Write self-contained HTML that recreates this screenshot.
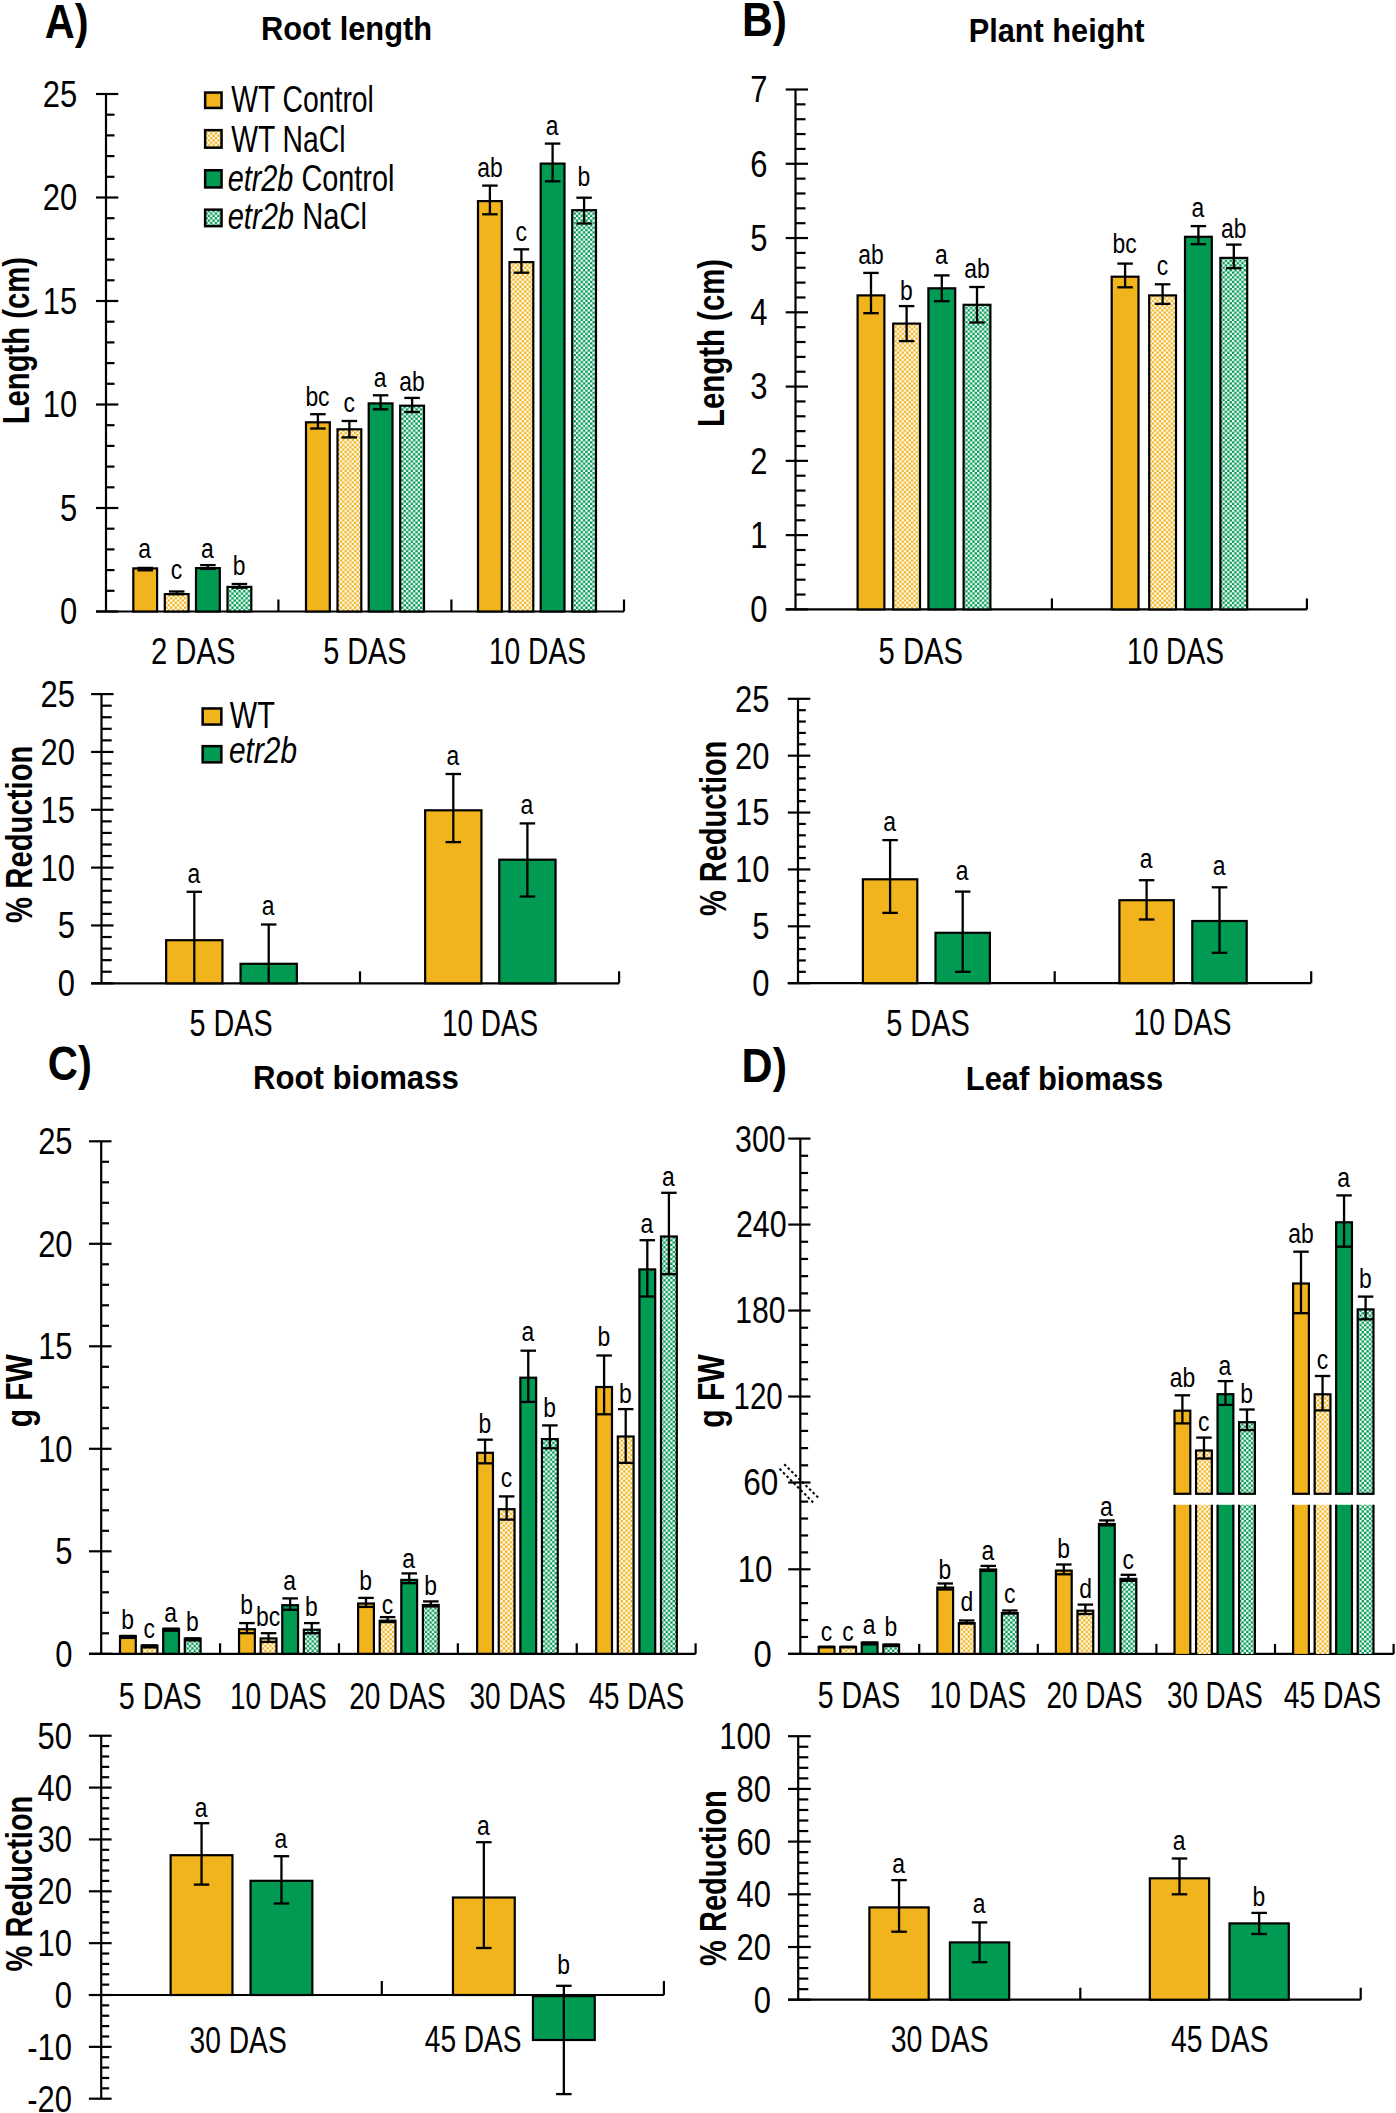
<!DOCTYPE html>
<html><head><meta charset="utf-8"><title>Figure</title>
<style>html,body{margin:0;padding:0;background:#fff;}svg{display:block;font-family:"Liberation Sans",sans-serif;}</style></head>
<body>
<svg width="1396" height="2113" viewBox="0 0 1396 2113"  fill="#000">
<defs>
<pattern id="po" width="4.72" height="4.72" patternUnits="userSpaceOnUse"><rect width="4.72" height="4.72" fill="#f1b41c"/><rect width="2.36" height="2.36" fill="#fff"/><rect x="2.36" y="2.36" width="2.36" height="2.36" fill="#fff"/></pattern>
<pattern id="pg" width="4.72" height="4.72" patternUnits="userSpaceOnUse"><rect width="4.72" height="4.72" fill="#009a52"/><rect width="2.36" height="2.36" fill="#fff"/><rect x="2.36" y="2.36" width="2.36" height="2.36" fill="#fff"/></pattern>
</defs>
<rect width="1396" height="2113" fill="#fff"/>
<text transform="translate(44.76,38.20) scale(0.8584,1)" font-size="48.5" font-weight="bold">A)</text>
<text transform="translate(260.92,40.10) scale(0.9070,1)" font-size="34" font-weight="bold">Root length</text>
<text transform="translate(29.40,424.27) rotate(-90) scale(0.7898,1)" font-size="37" font-weight="bold">Length (cm)</text>
<line x1="106.00" y1="94.00" x2="106.00" y2="611.50" stroke="#000" stroke-width="2.2"/>
<line x1="96.00" y1="611.50" x2="118.30" y2="611.50" stroke="#000" stroke-width="2.2"/>
<line x1="96.00" y1="508.00" x2="118.30" y2="508.00" stroke="#000" stroke-width="2.2"/>
<line x1="96.00" y1="404.50" x2="118.30" y2="404.50" stroke="#000" stroke-width="2.2"/>
<line x1="96.00" y1="301.00" x2="118.30" y2="301.00" stroke="#000" stroke-width="2.2"/>
<line x1="96.00" y1="197.50" x2="118.30" y2="197.50" stroke="#000" stroke-width="2.2"/>
<line x1="96.00" y1="94.00" x2="118.30" y2="94.00" stroke="#000" stroke-width="2.2"/>
<line x1="106.00" y1="590.80" x2="114.50" y2="590.80" stroke="#000" stroke-width="2.2"/>
<line x1="106.00" y1="570.10" x2="114.50" y2="570.10" stroke="#000" stroke-width="2.2"/>
<line x1="106.00" y1="549.40" x2="114.50" y2="549.40" stroke="#000" stroke-width="2.2"/>
<line x1="106.00" y1="528.70" x2="114.50" y2="528.70" stroke="#000" stroke-width="2.2"/>
<line x1="106.00" y1="487.30" x2="114.50" y2="487.30" stroke="#000" stroke-width="2.2"/>
<line x1="106.00" y1="466.60" x2="114.50" y2="466.60" stroke="#000" stroke-width="2.2"/>
<line x1="106.00" y1="445.90" x2="114.50" y2="445.90" stroke="#000" stroke-width="2.2"/>
<line x1="106.00" y1="425.20" x2="114.50" y2="425.20" stroke="#000" stroke-width="2.2"/>
<line x1="106.00" y1="383.80" x2="114.50" y2="383.80" stroke="#000" stroke-width="2.2"/>
<line x1="106.00" y1="363.10" x2="114.50" y2="363.10" stroke="#000" stroke-width="2.2"/>
<line x1="106.00" y1="342.40" x2="114.50" y2="342.40" stroke="#000" stroke-width="2.2"/>
<line x1="106.00" y1="321.70" x2="114.50" y2="321.70" stroke="#000" stroke-width="2.2"/>
<line x1="106.00" y1="280.30" x2="114.50" y2="280.30" stroke="#000" stroke-width="2.2"/>
<line x1="106.00" y1="259.60" x2="114.50" y2="259.60" stroke="#000" stroke-width="2.2"/>
<line x1="106.00" y1="238.90" x2="114.50" y2="238.90" stroke="#000" stroke-width="2.2"/>
<line x1="106.00" y1="218.20" x2="114.50" y2="218.20" stroke="#000" stroke-width="2.2"/>
<line x1="106.00" y1="176.80" x2="114.50" y2="176.80" stroke="#000" stroke-width="2.2"/>
<line x1="106.00" y1="156.10" x2="114.50" y2="156.10" stroke="#000" stroke-width="2.2"/>
<line x1="106.00" y1="135.40" x2="114.50" y2="135.40" stroke="#000" stroke-width="2.2"/>
<line x1="106.00" y1="114.70" x2="114.50" y2="114.70" stroke="#000" stroke-width="2.2"/>
<line x1="96.00" y1="611.50" x2="624.00" y2="611.50" stroke="#000" stroke-width="2.2"/>
<line x1="278.40" y1="611.50" x2="278.40" y2="599.50" stroke="#000" stroke-width="2.2"/>
<line x1="451.40" y1="611.50" x2="451.40" y2="599.50" stroke="#000" stroke-width="2.2"/>
<line x1="624.00" y1="611.50" x2="624.00" y2="599.50" stroke="#000" stroke-width="2.2"/>
<text transform="translate(59.97,624.40) scale(0.8370,1)" font-size="37">0</text>
<text transform="translate(59.97,520.90) scale(0.8370,1)" font-size="37">5</text>
<text transform="translate(42.75,417.40) scale(0.8370,1)" font-size="37">10</text>
<text transform="translate(42.75,313.90) scale(0.8370,1)" font-size="37">15</text>
<text transform="translate(42.75,210.40) scale(0.8370,1)" font-size="37">20</text>
<text transform="translate(42.75,106.90) scale(0.8370,1)" font-size="37">25</text>
<rect x="133.30" y="568.40" width="23.80" height="43.10" fill="#f1b41c" stroke="#000" stroke-width="2.2"/>
<rect x="164.80" y="594.10" width="23.80" height="17.40" fill="url(#po)" stroke="#000" stroke-width="2.2"/>
<rect x="196.00" y="568.10" width="23.80" height="43.40" fill="#009a52" stroke="#000" stroke-width="2.2"/>
<rect x="227.50" y="586.90" width="23.80" height="24.60" fill="url(#pg)" stroke="#000" stroke-width="2.2"/>
<line x1="145.20" y1="567.90" x2="145.20" y2="570.30" stroke="#000" stroke-width="2.3"/>
<line x1="137.45" y1="567.90" x2="152.95" y2="567.90" stroke="#000" stroke-width="2.3"/>
<line x1="137.45" y1="570.30" x2="152.95" y2="570.30" stroke="#000" stroke-width="2.3"/>
<text transform="translate(138.33,557.90) scale(0.8330,1)" font-size="27.5">a</text>
<line x1="176.70" y1="591.50" x2="176.70" y2="594.10" stroke="#000" stroke-width="2.3"/>
<line x1="168.95" y1="591.50" x2="184.45" y2="591.50" stroke="#000" stroke-width="2.3"/>
<line x1="168.95" y1="594.10" x2="184.45" y2="594.10" stroke="#000" stroke-width="2.3"/>
<text transform="translate(170.80,579.10) scale(0.8330,1)" font-size="27.5">c</text>
<line x1="207.90" y1="565.10" x2="207.90" y2="568.90" stroke="#000" stroke-width="2.3"/>
<line x1="200.15" y1="565.10" x2="215.65" y2="565.10" stroke="#000" stroke-width="2.3"/>
<line x1="200.15" y1="568.90" x2="215.65" y2="568.90" stroke="#000" stroke-width="2.3"/>
<text transform="translate(201.03,557.90) scale(0.8330,1)" font-size="27.5">a</text>
<line x1="239.40" y1="584.00" x2="239.40" y2="587.70" stroke="#000" stroke-width="2.3"/>
<line x1="231.65" y1="584.00" x2="247.15" y2="584.00" stroke="#000" stroke-width="2.3"/>
<line x1="231.65" y1="587.70" x2="247.15" y2="587.70" stroke="#000" stroke-width="2.3"/>
<text transform="translate(232.76,574.60) scale(0.8330,1)" font-size="27.5">b</text>
<rect x="306.00" y="422.30" width="23.80" height="189.20" fill="#f1b41c" stroke="#000" stroke-width="2.2"/>
<rect x="337.50" y="429.30" width="23.80" height="182.20" fill="url(#po)" stroke="#000" stroke-width="2.2"/>
<rect x="368.70" y="403.40" width="23.80" height="208.10" fill="#009a52" stroke="#000" stroke-width="2.2"/>
<rect x="400.20" y="405.70" width="23.80" height="205.80" fill="url(#pg)" stroke="#000" stroke-width="2.2"/>
<line x1="317.90" y1="414.20" x2="317.90" y2="428.50" stroke="#000" stroke-width="2.3"/>
<line x1="310.15" y1="414.20" x2="325.65" y2="414.20" stroke="#000" stroke-width="2.3"/>
<line x1="310.15" y1="428.50" x2="325.65" y2="428.50" stroke="#000" stroke-width="2.3"/>
<text transform="translate(305.39,405.60) scale(0.8330,1)" font-size="27.5">bc</text>
<line x1="349.40" y1="421.00" x2="349.40" y2="437.40" stroke="#000" stroke-width="2.3"/>
<line x1="341.65" y1="421.00" x2="357.15" y2="421.00" stroke="#000" stroke-width="2.3"/>
<line x1="341.65" y1="437.40" x2="357.15" y2="437.40" stroke="#000" stroke-width="2.3"/>
<text transform="translate(343.50,412.20) scale(0.8330,1)" font-size="27.5">c</text>
<line x1="380.60" y1="395.30" x2="380.60" y2="409.30" stroke="#000" stroke-width="2.3"/>
<line x1="372.85" y1="395.30" x2="388.35" y2="395.30" stroke="#000" stroke-width="2.3"/>
<line x1="372.85" y1="409.30" x2="388.35" y2="409.30" stroke="#000" stroke-width="2.3"/>
<text transform="translate(373.73,386.60) scale(0.8330,1)" font-size="27.5">a</text>
<line x1="412.10" y1="397.90" x2="412.10" y2="412.00" stroke="#000" stroke-width="2.3"/>
<line x1="404.35" y1="397.90" x2="419.85" y2="397.90" stroke="#000" stroke-width="2.3"/>
<line x1="404.35" y1="412.00" x2="419.85" y2="412.00" stroke="#000" stroke-width="2.3"/>
<text transform="translate(399.36,391.10) scale(0.8330,1)" font-size="27.5">ab</text>
<rect x="478.00" y="201.10" width="23.80" height="410.40" fill="#f1b41c" stroke="#000" stroke-width="2.2"/>
<rect x="509.50" y="262.10" width="23.80" height="349.40" fill="url(#po)" stroke="#000" stroke-width="2.2"/>
<rect x="540.70" y="163.60" width="23.80" height="447.90" fill="#009a52" stroke="#000" stroke-width="2.2"/>
<rect x="572.20" y="210.20" width="23.80" height="401.30" fill="url(#pg)" stroke="#000" stroke-width="2.2"/>
<line x1="489.90" y1="185.60" x2="489.90" y2="214.30" stroke="#000" stroke-width="2.3"/>
<line x1="482.15" y1="185.60" x2="497.65" y2="185.60" stroke="#000" stroke-width="2.3"/>
<line x1="482.15" y1="214.30" x2="497.65" y2="214.30" stroke="#000" stroke-width="2.3"/>
<text transform="translate(477.16,176.50) scale(0.8330,1)" font-size="27.5">ab</text>
<line x1="521.40" y1="249.30" x2="521.40" y2="272.70" stroke="#000" stroke-width="2.3"/>
<line x1="513.65" y1="249.30" x2="529.15" y2="249.30" stroke="#000" stroke-width="2.3"/>
<line x1="513.65" y1="272.70" x2="529.15" y2="272.70" stroke="#000" stroke-width="2.3"/>
<text transform="translate(515.50,240.70) scale(0.8330,1)" font-size="27.5">c</text>
<line x1="552.60" y1="143.60" x2="552.60" y2="181.30" stroke="#000" stroke-width="2.3"/>
<line x1="544.85" y1="143.60" x2="560.35" y2="143.60" stroke="#000" stroke-width="2.3"/>
<line x1="544.85" y1="181.30" x2="560.35" y2="181.30" stroke="#000" stroke-width="2.3"/>
<text transform="translate(545.73,134.60) scale(0.8330,1)" font-size="27.5">a</text>
<line x1="584.10" y1="197.70" x2="584.10" y2="223.50" stroke="#000" stroke-width="2.3"/>
<line x1="576.35" y1="197.70" x2="591.85" y2="197.70" stroke="#000" stroke-width="2.3"/>
<line x1="576.35" y1="223.50" x2="591.85" y2="223.50" stroke="#000" stroke-width="2.3"/>
<text transform="translate(577.46,186.20) scale(0.8330,1)" font-size="27.5">b</text>
<text transform="translate(150.94,663.80) scale(0.8008,1)" font-size="36.5">2 DAS</text>
<text transform="translate(323.25,663.50) scale(0.7902,1)" font-size="36.5">5 DAS</text>
<text transform="translate(488.88,663.50) scale(0.7731,1)" font-size="36.5">10 DAS</text>
<rect x="205.15" y="92.55" width="16.40" height="15.40" fill="#f1b41c" stroke="#000" stroke-width="2.5"/>
<rect x="205.15" y="130.15" width="16.40" height="17.50" fill="url(#po)" stroke="#000" stroke-width="2.5"/>
<rect x="205.15" y="170.25" width="16.40" height="17.20" fill="#009a52" stroke="#000" stroke-width="2.5"/>
<rect x="205.15" y="209.65" width="16.40" height="16.50" fill="url(#pg)" stroke="#000" stroke-width="2.5"/>
<text transform="translate(231.16,111.50) scale(0.7828,1)" font-size="36.2" xml:space="preserve"><tspan>WT Control</tspan></text>
<text transform="translate(231.16,151.70) scale(0.7831,1)" font-size="36.2" xml:space="preserve"><tspan>WT NaCl</tspan></text>
<text transform="translate(227.66,191.10) scale(0.7969,1)" font-size="36.2" xml:space="preserve"><tspan font-style="italic">etr2b</tspan><tspan> Control</tspan></text>
<text transform="translate(227.65,228.90) scale(0.8052,1)" font-size="36.2" xml:space="preserve"><tspan font-style="italic">etr2b</tspan><tspan> NaCl</tspan></text>
<text transform="translate(32.30,922.93) rotate(-90) scale(0.7922,1)" font-size="37" font-weight="bold">% Reduction</text>
<line x1="101.50" y1="694.10" x2="101.50" y2="983.30" stroke="#000" stroke-width="2.2"/>
<line x1="91.10" y1="983.30" x2="113.50" y2="983.30" stroke="#000" stroke-width="2.2"/>
<line x1="91.10" y1="925.46" x2="113.50" y2="925.46" stroke="#000" stroke-width="2.2"/>
<line x1="91.10" y1="867.62" x2="113.50" y2="867.62" stroke="#000" stroke-width="2.2"/>
<line x1="91.10" y1="809.78" x2="113.50" y2="809.78" stroke="#000" stroke-width="2.2"/>
<line x1="91.10" y1="751.94" x2="113.50" y2="751.94" stroke="#000" stroke-width="2.2"/>
<line x1="91.10" y1="694.10" x2="113.50" y2="694.10" stroke="#000" stroke-width="2.2"/>
<line x1="101.50" y1="971.73" x2="111.70" y2="971.73" stroke="#000" stroke-width="2.2"/>
<line x1="101.50" y1="960.16" x2="111.70" y2="960.16" stroke="#000" stroke-width="2.2"/>
<line x1="101.50" y1="948.60" x2="111.70" y2="948.60" stroke="#000" stroke-width="2.2"/>
<line x1="101.50" y1="937.03" x2="111.70" y2="937.03" stroke="#000" stroke-width="2.2"/>
<line x1="101.50" y1="913.89" x2="111.70" y2="913.89" stroke="#000" stroke-width="2.2"/>
<line x1="101.50" y1="902.32" x2="111.70" y2="902.32" stroke="#000" stroke-width="2.2"/>
<line x1="101.50" y1="890.76" x2="111.70" y2="890.76" stroke="#000" stroke-width="2.2"/>
<line x1="101.50" y1="879.19" x2="111.70" y2="879.19" stroke="#000" stroke-width="2.2"/>
<line x1="101.50" y1="856.05" x2="111.70" y2="856.05" stroke="#000" stroke-width="2.2"/>
<line x1="101.50" y1="844.48" x2="111.70" y2="844.48" stroke="#000" stroke-width="2.2"/>
<line x1="101.50" y1="832.92" x2="111.70" y2="832.92" stroke="#000" stroke-width="2.2"/>
<line x1="101.50" y1="821.35" x2="111.70" y2="821.35" stroke="#000" stroke-width="2.2"/>
<line x1="101.50" y1="798.21" x2="111.70" y2="798.21" stroke="#000" stroke-width="2.2"/>
<line x1="101.50" y1="786.64" x2="111.70" y2="786.64" stroke="#000" stroke-width="2.2"/>
<line x1="101.50" y1="775.08" x2="111.70" y2="775.08" stroke="#000" stroke-width="2.2"/>
<line x1="101.50" y1="763.51" x2="111.70" y2="763.51" stroke="#000" stroke-width="2.2"/>
<line x1="101.50" y1="740.37" x2="111.70" y2="740.37" stroke="#000" stroke-width="2.2"/>
<line x1="101.50" y1="728.80" x2="111.70" y2="728.80" stroke="#000" stroke-width="2.2"/>
<line x1="101.50" y1="717.24" x2="111.70" y2="717.24" stroke="#000" stroke-width="2.2"/>
<line x1="101.50" y1="705.67" x2="111.70" y2="705.67" stroke="#000" stroke-width="2.2"/>
<line x1="91.10" y1="983.30" x2="619.10" y2="983.30" stroke="#000" stroke-width="2.2"/>
<line x1="360.00" y1="983.30" x2="360.00" y2="971.30" stroke="#000" stroke-width="2.2"/>
<line x1="619.10" y1="983.30" x2="619.10" y2="971.30" stroke="#000" stroke-width="2.2"/>
<text transform="translate(57.77,996.20) scale(0.8370,1)" font-size="37">0</text>
<text transform="translate(57.77,938.36) scale(0.8370,1)" font-size="37">5</text>
<text transform="translate(40.55,880.52) scale(0.8370,1)" font-size="37">10</text>
<text transform="translate(40.55,822.68) scale(0.8370,1)" font-size="37">15</text>
<text transform="translate(40.55,764.84) scale(0.8370,1)" font-size="37">20</text>
<text transform="translate(40.55,707.00) scale(0.8370,1)" font-size="37">25</text>
<rect x="166.15" y="940.20" width="56.30" height="43.10" fill="#f1b41c" stroke="#000" stroke-width="2.2"/>
<rect x="240.55" y="963.80" width="56.30" height="19.50" fill="#009a52" stroke="#000" stroke-width="2.2"/>
<line x1="194.30" y1="891.80" x2="194.30" y2="983.30" stroke="#000" stroke-width="2.3"/>
<line x1="186.55" y1="891.80" x2="202.05" y2="891.80" stroke="#000" stroke-width="2.3"/>
<text transform="translate(187.43,882.60) scale(0.8330,1)" font-size="27.5">a</text>
<line x1="268.70" y1="924.50" x2="268.70" y2="983.30" stroke="#000" stroke-width="2.3"/>
<line x1="260.95" y1="924.50" x2="276.45" y2="924.50" stroke="#000" stroke-width="2.3"/>
<text transform="translate(261.83,915.40) scale(0.8330,1)" font-size="27.5">a</text>
<rect x="425.15" y="810.30" width="56.30" height="173.00" fill="#f1b41c" stroke="#000" stroke-width="2.2"/>
<rect x="499.25" y="859.70" width="56.30" height="123.60" fill="#009a52" stroke="#000" stroke-width="2.2"/>
<line x1="453.30" y1="774.00" x2="453.30" y2="842.10" stroke="#000" stroke-width="2.3"/>
<line x1="445.55" y1="774.00" x2="461.05" y2="774.00" stroke="#000" stroke-width="2.3"/>
<line x1="445.55" y1="842.10" x2="461.05" y2="842.10" stroke="#000" stroke-width="2.3"/>
<text transform="translate(446.43,765.40) scale(0.8330,1)" font-size="27.5">a</text>
<line x1="527.40" y1="823.40" x2="527.40" y2="896.50" stroke="#000" stroke-width="2.3"/>
<line x1="519.65" y1="823.40" x2="535.15" y2="823.40" stroke="#000" stroke-width="2.3"/>
<line x1="519.65" y1="896.50" x2="535.15" y2="896.50" stroke="#000" stroke-width="2.3"/>
<text transform="translate(520.53,814.10) scale(0.8330,1)" font-size="27.5">a</text>
<text transform="translate(189.55,1035.80) scale(0.7872,1)" font-size="36.5">5 DAS</text>
<text transform="translate(442.01,1036.20) scale(0.7649,1)" font-size="36.5">10 DAS</text>
<rect x="202.65" y="708.45" width="18.70" height="16.10" fill="#f1b41c" stroke="#000" stroke-width="2.5"/>
<rect x="202.65" y="746.15" width="18.70" height="16.20" fill="#009a52" stroke="#000" stroke-width="2.5"/>
<text transform="translate(229.85,727.70) scale(0.8012,1)" font-size="36.2" xml:space="preserve"><tspan>WT</tspan></text>
<text transform="translate(229.03,763.10) scale(0.8244,1)" font-size="36.2" xml:space="preserve"><tspan font-style="italic">etr2b</tspan></text>
<text transform="translate(741.92,36.30) scale(0.8797,1)" font-size="48.5" font-weight="bold">B)</text>
<text transform="translate(968.73,41.60) scale(0.9039,1)" font-size="34" font-weight="bold">Plant height</text>
<text transform="translate(723.60,426.98) rotate(-90) scale(0.7942,1)" font-size="37" font-weight="bold">Length (cm)</text>
<line x1="795.50" y1="89.50" x2="795.50" y2="609.40" stroke="#000" stroke-width="2.2"/>
<line x1="785.70" y1="609.40" x2="808.00" y2="609.40" stroke="#000" stroke-width="2.2"/>
<line x1="785.70" y1="535.13" x2="808.00" y2="535.13" stroke="#000" stroke-width="2.2"/>
<line x1="785.70" y1="460.86" x2="808.00" y2="460.86" stroke="#000" stroke-width="2.2"/>
<line x1="785.70" y1="386.59" x2="808.00" y2="386.59" stroke="#000" stroke-width="2.2"/>
<line x1="785.70" y1="312.31" x2="808.00" y2="312.31" stroke="#000" stroke-width="2.2"/>
<line x1="785.70" y1="238.04" x2="808.00" y2="238.04" stroke="#000" stroke-width="2.2"/>
<line x1="785.70" y1="163.77" x2="808.00" y2="163.77" stroke="#000" stroke-width="2.2"/>
<line x1="785.70" y1="89.50" x2="808.00" y2="89.50" stroke="#000" stroke-width="2.2"/>
<line x1="795.50" y1="594.55" x2="805.50" y2="594.55" stroke="#000" stroke-width="2.2"/>
<line x1="795.50" y1="579.69" x2="805.50" y2="579.69" stroke="#000" stroke-width="2.2"/>
<line x1="795.50" y1="564.84" x2="805.50" y2="564.84" stroke="#000" stroke-width="2.2"/>
<line x1="795.50" y1="549.98" x2="805.50" y2="549.98" stroke="#000" stroke-width="2.2"/>
<line x1="795.50" y1="520.27" x2="805.50" y2="520.27" stroke="#000" stroke-width="2.2"/>
<line x1="795.50" y1="505.42" x2="805.50" y2="505.42" stroke="#000" stroke-width="2.2"/>
<line x1="795.50" y1="490.57" x2="805.50" y2="490.57" stroke="#000" stroke-width="2.2"/>
<line x1="795.50" y1="475.71" x2="805.50" y2="475.71" stroke="#000" stroke-width="2.2"/>
<line x1="795.50" y1="446.00" x2="805.50" y2="446.00" stroke="#000" stroke-width="2.2"/>
<line x1="795.50" y1="431.15" x2="805.50" y2="431.15" stroke="#000" stroke-width="2.2"/>
<line x1="795.50" y1="416.29" x2="805.50" y2="416.29" stroke="#000" stroke-width="2.2"/>
<line x1="795.50" y1="401.44" x2="805.50" y2="401.44" stroke="#000" stroke-width="2.2"/>
<line x1="795.50" y1="371.73" x2="805.50" y2="371.73" stroke="#000" stroke-width="2.2"/>
<line x1="795.50" y1="356.88" x2="805.50" y2="356.88" stroke="#000" stroke-width="2.2"/>
<line x1="795.50" y1="342.02" x2="805.50" y2="342.02" stroke="#000" stroke-width="2.2"/>
<line x1="795.50" y1="327.17" x2="805.50" y2="327.17" stroke="#000" stroke-width="2.2"/>
<line x1="795.50" y1="297.46" x2="805.50" y2="297.46" stroke="#000" stroke-width="2.2"/>
<line x1="795.50" y1="282.61" x2="805.50" y2="282.61" stroke="#000" stroke-width="2.2"/>
<line x1="795.50" y1="267.75" x2="805.50" y2="267.75" stroke="#000" stroke-width="2.2"/>
<line x1="795.50" y1="252.90" x2="805.50" y2="252.90" stroke="#000" stroke-width="2.2"/>
<line x1="795.50" y1="223.19" x2="805.50" y2="223.19" stroke="#000" stroke-width="2.2"/>
<line x1="795.50" y1="208.33" x2="805.50" y2="208.33" stroke="#000" stroke-width="2.2"/>
<line x1="795.50" y1="193.48" x2="805.50" y2="193.48" stroke="#000" stroke-width="2.2"/>
<line x1="795.50" y1="178.63" x2="805.50" y2="178.63" stroke="#000" stroke-width="2.2"/>
<line x1="795.50" y1="148.92" x2="805.50" y2="148.92" stroke="#000" stroke-width="2.2"/>
<line x1="795.50" y1="134.06" x2="805.50" y2="134.06" stroke="#000" stroke-width="2.2"/>
<line x1="795.50" y1="119.21" x2="805.50" y2="119.21" stroke="#000" stroke-width="2.2"/>
<line x1="795.50" y1="104.35" x2="805.50" y2="104.35" stroke="#000" stroke-width="2.2"/>
<line x1="785.70" y1="609.40" x2="1306.90" y2="609.40" stroke="#000" stroke-width="2.2"/>
<line x1="1051.90" y1="609.40" x2="1051.90" y2="598.40" stroke="#000" stroke-width="2.2"/>
<line x1="1306.90" y1="609.40" x2="1306.90" y2="598.40" stroke="#000" stroke-width="2.2"/>
<text transform="translate(750.17,622.30) scale(0.8370,1)" font-size="37">0</text>
<text transform="translate(750.17,548.03) scale(0.8370,1)" font-size="37">1</text>
<text transform="translate(750.17,473.76) scale(0.8370,1)" font-size="37">2</text>
<text transform="translate(750.17,399.49) scale(0.8370,1)" font-size="37">3</text>
<text transform="translate(750.17,325.22) scale(0.8370,1)" font-size="37">4</text>
<text transform="translate(750.17,250.95) scale(0.8370,1)" font-size="37">5</text>
<text transform="translate(750.17,176.68) scale(0.8370,1)" font-size="37">6</text>
<text transform="translate(750.17,102.40) scale(0.8370,1)" font-size="37">7</text>
<rect x="857.60" y="295.40" width="26.80" height="314.00" fill="#f1b41c" stroke="#000" stroke-width="2.2"/>
<rect x="893.20" y="323.60" width="26.80" height="285.80" fill="url(#po)" stroke="#000" stroke-width="2.2"/>
<rect x="928.40" y="288.30" width="26.80" height="321.10" fill="#009a52" stroke="#000" stroke-width="2.2"/>
<rect x="963.60" y="304.80" width="26.80" height="304.60" fill="url(#pg)" stroke="#000" stroke-width="2.2"/>
<line x1="871.00" y1="272.90" x2="871.00" y2="313.20" stroke="#000" stroke-width="2.3"/>
<line x1="863.25" y1="272.90" x2="878.75" y2="272.90" stroke="#000" stroke-width="2.3"/>
<line x1="863.25" y1="313.20" x2="878.75" y2="313.20" stroke="#000" stroke-width="2.3"/>
<text transform="translate(858.26,264.10) scale(0.8330,1)" font-size="27.5">ab</text>
<line x1="906.60" y1="306.10" x2="906.60" y2="341.10" stroke="#000" stroke-width="2.3"/>
<line x1="898.85" y1="306.10" x2="914.35" y2="306.10" stroke="#000" stroke-width="2.3"/>
<line x1="898.85" y1="341.10" x2="914.35" y2="341.10" stroke="#000" stroke-width="2.3"/>
<text transform="translate(899.96,299.70) scale(0.8330,1)" font-size="27.5">b</text>
<line x1="941.80" y1="275.40" x2="941.80" y2="301.20" stroke="#000" stroke-width="2.3"/>
<line x1="934.05" y1="275.40" x2="949.55" y2="275.40" stroke="#000" stroke-width="2.3"/>
<line x1="934.05" y1="301.20" x2="949.55" y2="301.20" stroke="#000" stroke-width="2.3"/>
<text transform="translate(934.93,264.10) scale(0.8330,1)" font-size="27.5">a</text>
<line x1="977.00" y1="287.00" x2="977.00" y2="322.50" stroke="#000" stroke-width="2.3"/>
<line x1="969.25" y1="287.00" x2="984.75" y2="287.00" stroke="#000" stroke-width="2.3"/>
<line x1="969.25" y1="322.50" x2="984.75" y2="322.50" stroke="#000" stroke-width="2.3"/>
<text transform="translate(964.26,278.10) scale(0.8330,1)" font-size="27.5">ab</text>
<rect x="1111.70" y="276.70" width="26.80" height="332.70" fill="#f1b41c" stroke="#000" stroke-width="2.2"/>
<rect x="1149.20" y="295.40" width="26.80" height="314.00" fill="url(#po)" stroke="#000" stroke-width="2.2"/>
<rect x="1185.00" y="236.80" width="26.80" height="372.60" fill="#009a52" stroke="#000" stroke-width="2.2"/>
<rect x="1220.40" y="257.90" width="26.80" height="351.50" fill="url(#pg)" stroke="#000" stroke-width="2.2"/>
<line x1="1125.10" y1="263.60" x2="1125.10" y2="287.30" stroke="#000" stroke-width="2.3"/>
<line x1="1117.35" y1="263.60" x2="1132.85" y2="263.60" stroke="#000" stroke-width="2.3"/>
<line x1="1117.35" y1="287.30" x2="1132.85" y2="287.30" stroke="#000" stroke-width="2.3"/>
<text transform="translate(1112.59,252.60) scale(0.8330,1)" font-size="27.5">bc</text>
<line x1="1162.60" y1="284.30" x2="1162.60" y2="303.90" stroke="#000" stroke-width="2.3"/>
<line x1="1154.85" y1="284.30" x2="1170.35" y2="284.30" stroke="#000" stroke-width="2.3"/>
<line x1="1154.85" y1="303.90" x2="1170.35" y2="303.90" stroke="#000" stroke-width="2.3"/>
<text transform="translate(1156.70,275.20) scale(0.8330,1)" font-size="27.5">c</text>
<line x1="1198.40" y1="226.10" x2="1198.40" y2="244.20" stroke="#000" stroke-width="2.3"/>
<line x1="1190.65" y1="226.10" x2="1206.15" y2="226.10" stroke="#000" stroke-width="2.3"/>
<line x1="1190.65" y1="244.20" x2="1206.15" y2="244.20" stroke="#000" stroke-width="2.3"/>
<text transform="translate(1191.53,216.70) scale(0.8330,1)" font-size="27.5">a</text>
<line x1="1233.80" y1="244.60" x2="1233.80" y2="268.20" stroke="#000" stroke-width="2.3"/>
<line x1="1226.05" y1="244.60" x2="1241.55" y2="244.60" stroke="#000" stroke-width="2.3"/>
<line x1="1226.05" y1="268.20" x2="1241.55" y2="268.20" stroke="#000" stroke-width="2.3"/>
<text transform="translate(1221.06,238.10) scale(0.8330,1)" font-size="27.5">ab</text>
<text transform="translate(878.53,664.00) scale(0.7999,1)" font-size="36.5">5 DAS</text>
<text transform="translate(1126.99,664.20) scale(0.7715,1)" font-size="36.5">10 DAS</text>
<text transform="translate(726.20,915.92) rotate(-90) scale(0.7823,1)" font-size="37" font-weight="bold">% Reduction</text>
<line x1="798.00" y1="698.80" x2="798.00" y2="983.20" stroke="#000" stroke-width="2.2"/>
<line x1="787.80" y1="983.20" x2="810.30" y2="983.20" stroke="#000" stroke-width="2.2"/>
<line x1="787.80" y1="926.32" x2="810.30" y2="926.32" stroke="#000" stroke-width="2.2"/>
<line x1="787.80" y1="869.44" x2="810.30" y2="869.44" stroke="#000" stroke-width="2.2"/>
<line x1="787.80" y1="812.56" x2="810.30" y2="812.56" stroke="#000" stroke-width="2.2"/>
<line x1="787.80" y1="755.68" x2="810.30" y2="755.68" stroke="#000" stroke-width="2.2"/>
<line x1="787.80" y1="698.80" x2="810.30" y2="698.80" stroke="#000" stroke-width="2.2"/>
<line x1="798.00" y1="971.82" x2="805.80" y2="971.82" stroke="#000" stroke-width="2.2"/>
<line x1="798.00" y1="960.45" x2="805.80" y2="960.45" stroke="#000" stroke-width="2.2"/>
<line x1="798.00" y1="949.07" x2="805.80" y2="949.07" stroke="#000" stroke-width="2.2"/>
<line x1="798.00" y1="937.70" x2="805.80" y2="937.70" stroke="#000" stroke-width="2.2"/>
<line x1="798.00" y1="914.94" x2="805.80" y2="914.94" stroke="#000" stroke-width="2.2"/>
<line x1="798.00" y1="903.57" x2="805.80" y2="903.57" stroke="#000" stroke-width="2.2"/>
<line x1="798.00" y1="892.19" x2="805.80" y2="892.19" stroke="#000" stroke-width="2.2"/>
<line x1="798.00" y1="880.82" x2="805.80" y2="880.82" stroke="#000" stroke-width="2.2"/>
<line x1="798.00" y1="858.06" x2="805.80" y2="858.06" stroke="#000" stroke-width="2.2"/>
<line x1="798.00" y1="846.69" x2="805.80" y2="846.69" stroke="#000" stroke-width="2.2"/>
<line x1="798.00" y1="835.31" x2="805.80" y2="835.31" stroke="#000" stroke-width="2.2"/>
<line x1="798.00" y1="823.94" x2="805.80" y2="823.94" stroke="#000" stroke-width="2.2"/>
<line x1="798.00" y1="801.18" x2="805.80" y2="801.18" stroke="#000" stroke-width="2.2"/>
<line x1="798.00" y1="789.81" x2="805.80" y2="789.81" stroke="#000" stroke-width="2.2"/>
<line x1="798.00" y1="778.43" x2="805.80" y2="778.43" stroke="#000" stroke-width="2.2"/>
<line x1="798.00" y1="767.06" x2="805.80" y2="767.06" stroke="#000" stroke-width="2.2"/>
<line x1="798.00" y1="744.30" x2="805.80" y2="744.30" stroke="#000" stroke-width="2.2"/>
<line x1="798.00" y1="732.93" x2="805.80" y2="732.93" stroke="#000" stroke-width="2.2"/>
<line x1="798.00" y1="721.55" x2="805.80" y2="721.55" stroke="#000" stroke-width="2.2"/>
<line x1="798.00" y1="710.18" x2="805.80" y2="710.18" stroke="#000" stroke-width="2.2"/>
<line x1="787.80" y1="983.20" x2="1311.20" y2="983.20" stroke="#000" stroke-width="2.2"/>
<line x1="1054.70" y1="983.20" x2="1054.70" y2="971.20" stroke="#000" stroke-width="2.2"/>
<line x1="1311.20" y1="983.20" x2="1311.20" y2="971.20" stroke="#000" stroke-width="2.2"/>
<text transform="translate(752.17,996.10) scale(0.8370,1)" font-size="37">0</text>
<text transform="translate(752.17,939.22) scale(0.8370,1)" font-size="37">5</text>
<text transform="translate(734.95,882.34) scale(0.8370,1)" font-size="37">10</text>
<text transform="translate(734.95,825.46) scale(0.8370,1)" font-size="37">15</text>
<text transform="translate(734.95,768.58) scale(0.8370,1)" font-size="37">20</text>
<text transform="translate(734.95,711.70) scale(0.8370,1)" font-size="37">25</text>
<rect x="862.90" y="879.30" width="54.40" height="103.90" fill="#f1b41c" stroke="#000" stroke-width="2.2"/>
<rect x="935.50" y="932.80" width="54.40" height="50.40" fill="#009a52" stroke="#000" stroke-width="2.2"/>
<line x1="890.10" y1="840.10" x2="890.10" y2="912.90" stroke="#000" stroke-width="2.3"/>
<line x1="882.35" y1="840.10" x2="897.85" y2="840.10" stroke="#000" stroke-width="2.3"/>
<line x1="882.35" y1="912.90" x2="897.85" y2="912.90" stroke="#000" stroke-width="2.3"/>
<text transform="translate(883.23,830.60) scale(0.8330,1)" font-size="27.5">a</text>
<line x1="962.70" y1="891.60" x2="962.70" y2="971.80" stroke="#000" stroke-width="2.3"/>
<line x1="954.95" y1="891.60" x2="970.45" y2="891.60" stroke="#000" stroke-width="2.3"/>
<line x1="954.95" y1="971.80" x2="970.45" y2="971.80" stroke="#000" stroke-width="2.3"/>
<text transform="translate(955.83,880.20) scale(0.8330,1)" font-size="27.5">a</text>
<rect x="1119.40" y="900.20" width="54.40" height="83.00" fill="#f1b41c" stroke="#000" stroke-width="2.2"/>
<rect x="1192.30" y="921.00" width="54.40" height="62.20" fill="#009a52" stroke="#000" stroke-width="2.2"/>
<line x1="1146.60" y1="880.20" x2="1146.60" y2="919.50" stroke="#000" stroke-width="2.3"/>
<line x1="1138.85" y1="880.20" x2="1154.35" y2="880.20" stroke="#000" stroke-width="2.3"/>
<line x1="1138.85" y1="919.50" x2="1154.35" y2="919.50" stroke="#000" stroke-width="2.3"/>
<text transform="translate(1139.73,868.40) scale(0.8330,1)" font-size="27.5">a</text>
<line x1="1219.50" y1="887.30" x2="1219.50" y2="952.80" stroke="#000" stroke-width="2.3"/>
<line x1="1211.75" y1="887.30" x2="1227.25" y2="887.30" stroke="#000" stroke-width="2.3"/>
<line x1="1211.75" y1="952.80" x2="1227.25" y2="952.80" stroke="#000" stroke-width="2.3"/>
<text transform="translate(1212.63,875.40) scale(0.8330,1)" font-size="27.5">a</text>
<text transform="translate(886.14,1035.60) scale(0.7931,1)" font-size="36.5">5 DAS</text>
<text transform="translate(1133.47,1034.90) scale(0.7789,1)" font-size="36.5">10 DAS</text>
<text transform="translate(47.83,1080.00) scale(0.8611,1)" font-size="48.5" font-weight="bold">C)</text>
<text transform="translate(252.90,1089.40) scale(0.9164,1)" font-size="34" font-weight="bold">Root biomass</text>
<text transform="translate(32.20,1427.30) rotate(-90) scale(0.8088,1)" font-size="37" font-weight="bold">g FW</text>
<line x1="101.20" y1="1141.30" x2="101.20" y2="1653.80" stroke="#000" stroke-width="2.2"/>
<line x1="89.00" y1="1653.80" x2="111.50" y2="1653.80" stroke="#000" stroke-width="2.2"/>
<line x1="89.00" y1="1551.30" x2="111.50" y2="1551.30" stroke="#000" stroke-width="2.2"/>
<line x1="89.00" y1="1448.80" x2="111.50" y2="1448.80" stroke="#000" stroke-width="2.2"/>
<line x1="89.00" y1="1346.30" x2="111.50" y2="1346.30" stroke="#000" stroke-width="2.2"/>
<line x1="89.00" y1="1243.80" x2="111.50" y2="1243.80" stroke="#000" stroke-width="2.2"/>
<line x1="89.00" y1="1141.30" x2="111.50" y2="1141.30" stroke="#000" stroke-width="2.2"/>
<line x1="101.20" y1="1633.30" x2="109.00" y2="1633.30" stroke="#000" stroke-width="2.2"/>
<line x1="101.20" y1="1612.80" x2="109.00" y2="1612.80" stroke="#000" stroke-width="2.2"/>
<line x1="101.20" y1="1592.30" x2="109.00" y2="1592.30" stroke="#000" stroke-width="2.2"/>
<line x1="101.20" y1="1571.80" x2="109.00" y2="1571.80" stroke="#000" stroke-width="2.2"/>
<line x1="101.20" y1="1530.80" x2="109.00" y2="1530.80" stroke="#000" stroke-width="2.2"/>
<line x1="101.20" y1="1510.30" x2="109.00" y2="1510.30" stroke="#000" stroke-width="2.2"/>
<line x1="101.20" y1="1489.80" x2="109.00" y2="1489.80" stroke="#000" stroke-width="2.2"/>
<line x1="101.20" y1="1469.30" x2="109.00" y2="1469.30" stroke="#000" stroke-width="2.2"/>
<line x1="101.20" y1="1428.30" x2="109.00" y2="1428.30" stroke="#000" stroke-width="2.2"/>
<line x1="101.20" y1="1407.80" x2="109.00" y2="1407.80" stroke="#000" stroke-width="2.2"/>
<line x1="101.20" y1="1387.30" x2="109.00" y2="1387.30" stroke="#000" stroke-width="2.2"/>
<line x1="101.20" y1="1366.80" x2="109.00" y2="1366.80" stroke="#000" stroke-width="2.2"/>
<line x1="101.20" y1="1325.80" x2="109.00" y2="1325.80" stroke="#000" stroke-width="2.2"/>
<line x1="101.20" y1="1305.30" x2="109.00" y2="1305.30" stroke="#000" stroke-width="2.2"/>
<line x1="101.20" y1="1284.80" x2="109.00" y2="1284.80" stroke="#000" stroke-width="2.2"/>
<line x1="101.20" y1="1264.30" x2="109.00" y2="1264.30" stroke="#000" stroke-width="2.2"/>
<line x1="101.20" y1="1223.30" x2="109.00" y2="1223.30" stroke="#000" stroke-width="2.2"/>
<line x1="101.20" y1="1202.80" x2="109.00" y2="1202.80" stroke="#000" stroke-width="2.2"/>
<line x1="101.20" y1="1182.30" x2="109.00" y2="1182.30" stroke="#000" stroke-width="2.2"/>
<line x1="101.20" y1="1161.80" x2="109.00" y2="1161.80" stroke="#000" stroke-width="2.2"/>
<line x1="89.00" y1="1653.80" x2="695.60" y2="1653.80" stroke="#000" stroke-width="2.2"/>
<line x1="220.08" y1="1653.80" x2="220.08" y2="1643.30" stroke="#000" stroke-width="2.2"/>
<line x1="338.96" y1="1653.80" x2="338.96" y2="1643.30" stroke="#000" stroke-width="2.2"/>
<line x1="457.84" y1="1653.80" x2="457.84" y2="1643.30" stroke="#000" stroke-width="2.2"/>
<line x1="576.72" y1="1653.80" x2="576.72" y2="1643.30" stroke="#000" stroke-width="2.2"/>
<line x1="695.60" y1="1653.80" x2="695.60" y2="1643.30" stroke="#000" stroke-width="2.2"/>
<text transform="translate(55.37,1666.70) scale(0.8370,1)" font-size="37">0</text>
<text transform="translate(55.37,1564.20) scale(0.8370,1)" font-size="37">5</text>
<text transform="translate(38.15,1461.70) scale(0.8370,1)" font-size="37">10</text>
<text transform="translate(38.15,1359.20) scale(0.8370,1)" font-size="37">15</text>
<text transform="translate(38.15,1256.70) scale(0.8370,1)" font-size="37">20</text>
<text transform="translate(38.15,1154.20) scale(0.8370,1)" font-size="37">25</text>
<rect x="120.00" y="1636.10" width="15.80" height="17.70" fill="#f1b41c" stroke="#000" stroke-width="2.2"/>
<rect x="141.60" y="1645.60" width="15.80" height="8.20" fill="url(#po)" stroke="#000" stroke-width="2.2"/>
<rect x="163.20" y="1628.90" width="15.80" height="24.90" fill="#009a52" stroke="#000" stroke-width="2.2"/>
<rect x="184.80" y="1638.60" width="15.80" height="15.20" fill="url(#pg)" stroke="#000" stroke-width="2.2"/>
<line x1="127.90" y1="1635.90" x2="127.90" y2="1637.90" stroke="#000" stroke-width="2.3"/>
<line x1="120.15" y1="1635.90" x2="135.65" y2="1635.90" stroke="#000" stroke-width="2.3"/>
<line x1="120.15" y1="1637.90" x2="135.65" y2="1637.90" stroke="#000" stroke-width="2.3"/>
<text transform="translate(121.26,1629.00) scale(0.8330,1)" font-size="27.5">b</text>
<line x1="149.50" y1="1645.40" x2="149.50" y2="1647.40" stroke="#000" stroke-width="2.3"/>
<line x1="141.75" y1="1645.40" x2="157.25" y2="1645.40" stroke="#000" stroke-width="2.3"/>
<line x1="141.75" y1="1647.40" x2="157.25" y2="1647.40" stroke="#000" stroke-width="2.3"/>
<text transform="translate(143.60,1638.30) scale(0.8330,1)" font-size="27.5">c</text>
<line x1="171.10" y1="1628.70" x2="171.10" y2="1630.70" stroke="#000" stroke-width="2.3"/>
<line x1="163.35" y1="1628.70" x2="178.85" y2="1628.70" stroke="#000" stroke-width="2.3"/>
<line x1="163.35" y1="1630.70" x2="178.85" y2="1630.70" stroke="#000" stroke-width="2.3"/>
<text transform="translate(164.23,1622.20) scale(0.8330,1)" font-size="27.5">a</text>
<line x1="192.70" y1="1638.40" x2="192.70" y2="1640.40" stroke="#000" stroke-width="2.3"/>
<line x1="184.95" y1="1638.40" x2="200.45" y2="1638.40" stroke="#000" stroke-width="2.3"/>
<line x1="184.95" y1="1640.40" x2="200.45" y2="1640.40" stroke="#000" stroke-width="2.3"/>
<text transform="translate(186.06,1631.10) scale(0.8330,1)" font-size="27.5">b</text>
<rect x="239.05" y="1629.20" width="15.80" height="24.60" fill="#f1b41c" stroke="#000" stroke-width="2.2"/>
<rect x="260.65" y="1638.40" width="15.80" height="15.40" fill="url(#po)" stroke="#000" stroke-width="2.2"/>
<rect x="282.25" y="1605.20" width="15.80" height="48.60" fill="#009a52" stroke="#000" stroke-width="2.2"/>
<rect x="303.85" y="1629.70" width="15.80" height="24.10" fill="url(#pg)" stroke="#000" stroke-width="2.2"/>
<line x1="246.95" y1="1623.10" x2="246.95" y2="1633.20" stroke="#000" stroke-width="2.3"/>
<line x1="239.20" y1="1623.10" x2="254.70" y2="1623.10" stroke="#000" stroke-width="2.3"/>
<line x1="239.20" y1="1633.20" x2="254.70" y2="1633.20" stroke="#000" stroke-width="2.3"/>
<text transform="translate(240.31,1614.40) scale(0.8330,1)" font-size="27.5">b</text>
<line x1="268.55" y1="1633.20" x2="268.55" y2="1641.90" stroke="#000" stroke-width="2.3"/>
<line x1="260.80" y1="1633.20" x2="276.30" y2="1633.20" stroke="#000" stroke-width="2.3"/>
<line x1="260.80" y1="1641.90" x2="276.30" y2="1641.90" stroke="#000" stroke-width="2.3"/>
<text transform="translate(256.04,1625.80) scale(0.8330,1)" font-size="27.5">bc</text>
<line x1="290.15" y1="1598.40" x2="290.15" y2="1609.80" stroke="#000" stroke-width="2.3"/>
<line x1="282.40" y1="1598.40" x2="297.90" y2="1598.40" stroke="#000" stroke-width="2.3"/>
<line x1="282.40" y1="1609.80" x2="297.90" y2="1609.80" stroke="#000" stroke-width="2.3"/>
<text transform="translate(283.28,1590.30) scale(0.8330,1)" font-size="27.5">a</text>
<line x1="311.75" y1="1623.10" x2="311.75" y2="1633.20" stroke="#000" stroke-width="2.3"/>
<line x1="304.00" y1="1623.10" x2="319.50" y2="1623.10" stroke="#000" stroke-width="2.3"/>
<line x1="304.00" y1="1633.20" x2="319.50" y2="1633.20" stroke="#000" stroke-width="2.3"/>
<text transform="translate(305.11,1615.50) scale(0.8330,1)" font-size="27.5">b</text>
<rect x="358.10" y="1603.50" width="15.80" height="50.30" fill="#f1b41c" stroke="#000" stroke-width="2.2"/>
<rect x="379.70" y="1620.70" width="15.80" height="33.10" fill="url(#po)" stroke="#000" stroke-width="2.2"/>
<rect x="401.30" y="1579.90" width="15.80" height="73.90" fill="#009a52" stroke="#000" stroke-width="2.2"/>
<rect x="422.90" y="1605.00" width="15.80" height="48.80" fill="url(#pg)" stroke="#000" stroke-width="2.2"/>
<line x1="366.00" y1="1597.90" x2="366.00" y2="1606.90" stroke="#000" stroke-width="2.3"/>
<line x1="358.25" y1="1597.90" x2="373.75" y2="1597.90" stroke="#000" stroke-width="2.3"/>
<line x1="358.25" y1="1606.90" x2="373.75" y2="1606.90" stroke="#000" stroke-width="2.3"/>
<text transform="translate(359.36,1590.40) scale(0.8330,1)" font-size="27.5">b</text>
<line x1="387.60" y1="1617.10" x2="387.60" y2="1622.10" stroke="#000" stroke-width="2.3"/>
<line x1="379.85" y1="1617.10" x2="395.35" y2="1617.10" stroke="#000" stroke-width="2.3"/>
<line x1="379.85" y1="1622.10" x2="395.35" y2="1622.10" stroke="#000" stroke-width="2.3"/>
<text transform="translate(381.70,1613.70) scale(0.8330,1)" font-size="27.5">c</text>
<line x1="409.20" y1="1573.40" x2="409.20" y2="1583.20" stroke="#000" stroke-width="2.3"/>
<line x1="401.45" y1="1573.40" x2="416.95" y2="1573.40" stroke="#000" stroke-width="2.3"/>
<line x1="401.45" y1="1583.20" x2="416.95" y2="1583.20" stroke="#000" stroke-width="2.3"/>
<text transform="translate(402.33,1567.70) scale(0.8330,1)" font-size="27.5">a</text>
<line x1="430.80" y1="1601.40" x2="430.80" y2="1606.40" stroke="#000" stroke-width="2.3"/>
<line x1="423.05" y1="1601.40" x2="438.55" y2="1601.40" stroke="#000" stroke-width="2.3"/>
<line x1="423.05" y1="1606.40" x2="438.55" y2="1606.40" stroke="#000" stroke-width="2.3"/>
<text transform="translate(424.16,1594.90) scale(0.8330,1)" font-size="27.5">b</text>
<rect x="477.15" y="1452.80" width="15.80" height="201.00" fill="#f1b41c" stroke="#000" stroke-width="2.2"/>
<rect x="498.75" y="1509.20" width="15.80" height="144.60" fill="url(#po)" stroke="#000" stroke-width="2.2"/>
<rect x="520.35" y="1377.70" width="15.80" height="276.10" fill="#009a52" stroke="#000" stroke-width="2.2"/>
<rect x="541.95" y="1439.10" width="15.80" height="214.70" fill="url(#pg)" stroke="#000" stroke-width="2.2"/>
<line x1="485.05" y1="1439.70" x2="485.05" y2="1463.30" stroke="#000" stroke-width="2.3"/>
<line x1="477.30" y1="1439.70" x2="492.80" y2="1439.70" stroke="#000" stroke-width="2.3"/>
<line x1="477.30" y1="1463.30" x2="492.80" y2="1463.30" stroke="#000" stroke-width="2.3"/>
<text transform="translate(478.41,1432.80) scale(0.8330,1)" font-size="27.5">b</text>
<line x1="506.65" y1="1496.40" x2="506.65" y2="1519.60" stroke="#000" stroke-width="2.3"/>
<line x1="498.90" y1="1496.40" x2="514.40" y2="1496.40" stroke="#000" stroke-width="2.3"/>
<line x1="498.90" y1="1519.60" x2="514.40" y2="1519.60" stroke="#000" stroke-width="2.3"/>
<text transform="translate(500.75,1487.00) scale(0.8330,1)" font-size="27.5">c</text>
<line x1="528.25" y1="1350.70" x2="528.25" y2="1401.90" stroke="#000" stroke-width="2.3"/>
<line x1="520.50" y1="1350.70" x2="536.00" y2="1350.70" stroke="#000" stroke-width="2.3"/>
<line x1="520.50" y1="1401.90" x2="536.00" y2="1401.90" stroke="#000" stroke-width="2.3"/>
<text transform="translate(521.38,1340.90) scale(0.8330,1)" font-size="27.5">a</text>
<line x1="549.85" y1="1425.40" x2="549.85" y2="1448.30" stroke="#000" stroke-width="2.3"/>
<line x1="542.10" y1="1425.40" x2="557.60" y2="1425.40" stroke="#000" stroke-width="2.3"/>
<line x1="542.10" y1="1448.30" x2="557.60" y2="1448.30" stroke="#000" stroke-width="2.3"/>
<text transform="translate(543.21,1416.50) scale(0.8330,1)" font-size="27.5">b</text>
<rect x="596.20" y="1387.00" width="15.80" height="266.80" fill="#f1b41c" stroke="#000" stroke-width="2.2"/>
<rect x="617.80" y="1436.50" width="15.80" height="217.30" fill="url(#po)" stroke="#000" stroke-width="2.2"/>
<rect x="639.40" y="1269.40" width="15.80" height="384.40" fill="#009a52" stroke="#000" stroke-width="2.2"/>
<rect x="661.00" y="1236.50" width="15.80" height="417.30" fill="url(#pg)" stroke="#000" stroke-width="2.2"/>
<line x1="604.10" y1="1355.50" x2="604.10" y2="1414.30" stroke="#000" stroke-width="2.3"/>
<line x1="596.35" y1="1355.50" x2="611.85" y2="1355.50" stroke="#000" stroke-width="2.3"/>
<line x1="596.35" y1="1414.30" x2="611.85" y2="1414.30" stroke="#000" stroke-width="2.3"/>
<text transform="translate(597.46,1346.40) scale(0.8330,1)" font-size="27.5">b</text>
<line x1="625.70" y1="1409.10" x2="625.70" y2="1462.90" stroke="#000" stroke-width="2.3"/>
<line x1="617.95" y1="1409.10" x2="633.45" y2="1409.10" stroke="#000" stroke-width="2.3"/>
<line x1="617.95" y1="1462.90" x2="633.45" y2="1462.90" stroke="#000" stroke-width="2.3"/>
<text transform="translate(619.06,1402.70) scale(0.8330,1)" font-size="27.5">b</text>
<line x1="647.30" y1="1240.20" x2="647.30" y2="1296.50" stroke="#000" stroke-width="2.3"/>
<line x1="639.55" y1="1240.20" x2="655.05" y2="1240.20" stroke="#000" stroke-width="2.3"/>
<line x1="639.55" y1="1296.50" x2="655.05" y2="1296.50" stroke="#000" stroke-width="2.3"/>
<text transform="translate(640.43,1233.40) scale(0.8330,1)" font-size="27.5">a</text>
<line x1="668.90" y1="1192.80" x2="668.90" y2="1274.20" stroke="#000" stroke-width="2.3"/>
<line x1="661.15" y1="1192.80" x2="676.65" y2="1192.80" stroke="#000" stroke-width="2.3"/>
<line x1="661.15" y1="1274.20" x2="676.65" y2="1274.20" stroke="#000" stroke-width="2.3"/>
<text transform="translate(662.03,1186.10) scale(0.8330,1)" font-size="27.5">a</text>
<text transform="translate(118.65,1708.50) scale(0.7882,1)" font-size="36.5">5 DAS</text>
<text transform="translate(230.00,1708.50) scale(0.7682,1)" font-size="36.5">10 DAS</text>
<text transform="translate(349.20,1708.50) scale(0.7682,1)" font-size="36.5">20 DAS</text>
<text transform="translate(469.55,1708.50) scale(0.7653,1)" font-size="36.5">30 DAS</text>
<text transform="translate(588.68,1708.50) scale(0.7595,1)" font-size="36.5">45 DAS</text>
<text transform="translate(31.80,1971.43) rotate(-90) scale(0.7846,1)" font-size="37" font-weight="bold">% Reduction</text>
<line x1="101.20" y1="1735.75" x2="101.20" y2="2098.70" stroke="#000" stroke-width="2.2"/>
<line x1="88.90" y1="2098.70" x2="111.60" y2="2098.70" stroke="#000" stroke-width="2.2"/>
<line x1="88.90" y1="2046.85" x2="111.60" y2="2046.85" stroke="#000" stroke-width="2.2"/>
<line x1="88.90" y1="1995.00" x2="111.60" y2="1995.00" stroke="#000" stroke-width="2.2"/>
<line x1="88.90" y1="1943.15" x2="111.60" y2="1943.15" stroke="#000" stroke-width="2.2"/>
<line x1="88.90" y1="1891.30" x2="111.60" y2="1891.30" stroke="#000" stroke-width="2.2"/>
<line x1="88.90" y1="1839.45" x2="111.60" y2="1839.45" stroke="#000" stroke-width="2.2"/>
<line x1="88.90" y1="1787.60" x2="111.60" y2="1787.60" stroke="#000" stroke-width="2.2"/>
<line x1="88.90" y1="1735.75" x2="111.60" y2="1735.75" stroke="#000" stroke-width="2.2"/>
<line x1="101.20" y1="2088.33" x2="109.20" y2="2088.33" stroke="#000" stroke-width="2.2"/>
<line x1="101.20" y1="2077.96" x2="109.20" y2="2077.96" stroke="#000" stroke-width="2.2"/>
<line x1="101.20" y1="2067.59" x2="109.20" y2="2067.59" stroke="#000" stroke-width="2.2"/>
<line x1="101.20" y1="2057.22" x2="109.20" y2="2057.22" stroke="#000" stroke-width="2.2"/>
<line x1="101.20" y1="2036.48" x2="109.20" y2="2036.48" stroke="#000" stroke-width="2.2"/>
<line x1="101.20" y1="2026.11" x2="109.20" y2="2026.11" stroke="#000" stroke-width="2.2"/>
<line x1="101.20" y1="2015.74" x2="109.20" y2="2015.74" stroke="#000" stroke-width="2.2"/>
<line x1="101.20" y1="2005.37" x2="109.20" y2="2005.37" stroke="#000" stroke-width="2.2"/>
<line x1="101.20" y1="1984.63" x2="109.20" y2="1984.63" stroke="#000" stroke-width="2.2"/>
<line x1="101.20" y1="1974.26" x2="109.20" y2="1974.26" stroke="#000" stroke-width="2.2"/>
<line x1="101.20" y1="1963.89" x2="109.20" y2="1963.89" stroke="#000" stroke-width="2.2"/>
<line x1="101.20" y1="1953.52" x2="109.20" y2="1953.52" stroke="#000" stroke-width="2.2"/>
<line x1="101.20" y1="1932.78" x2="109.20" y2="1932.78" stroke="#000" stroke-width="2.2"/>
<line x1="101.20" y1="1922.41" x2="109.20" y2="1922.41" stroke="#000" stroke-width="2.2"/>
<line x1="101.20" y1="1912.04" x2="109.20" y2="1912.04" stroke="#000" stroke-width="2.2"/>
<line x1="101.20" y1="1901.67" x2="109.20" y2="1901.67" stroke="#000" stroke-width="2.2"/>
<line x1="101.20" y1="1880.93" x2="109.20" y2="1880.93" stroke="#000" stroke-width="2.2"/>
<line x1="101.20" y1="1870.56" x2="109.20" y2="1870.56" stroke="#000" stroke-width="2.2"/>
<line x1="101.20" y1="1860.19" x2="109.20" y2="1860.19" stroke="#000" stroke-width="2.2"/>
<line x1="101.20" y1="1849.82" x2="109.20" y2="1849.82" stroke="#000" stroke-width="2.2"/>
<line x1="101.20" y1="1829.08" x2="109.20" y2="1829.08" stroke="#000" stroke-width="2.2"/>
<line x1="101.20" y1="1818.71" x2="109.20" y2="1818.71" stroke="#000" stroke-width="2.2"/>
<line x1="101.20" y1="1808.34" x2="109.20" y2="1808.34" stroke="#000" stroke-width="2.2"/>
<line x1="101.20" y1="1797.97" x2="109.20" y2="1797.97" stroke="#000" stroke-width="2.2"/>
<line x1="101.20" y1="1777.23" x2="109.20" y2="1777.23" stroke="#000" stroke-width="2.2"/>
<line x1="101.20" y1="1766.86" x2="109.20" y2="1766.86" stroke="#000" stroke-width="2.2"/>
<line x1="101.20" y1="1756.49" x2="109.20" y2="1756.49" stroke="#000" stroke-width="2.2"/>
<line x1="101.20" y1="1746.12" x2="109.20" y2="1746.12" stroke="#000" stroke-width="2.2"/>
<line x1="88.90" y1="1995.00" x2="663.90" y2="1995.00" stroke="#000" stroke-width="2.2"/>
<line x1="381.80" y1="1995.00" x2="381.80" y2="1981.00" stroke="#000" stroke-width="2.2"/>
<line x1="663.90" y1="1995.00" x2="663.90" y2="1981.00" stroke="#000" stroke-width="2.2"/>
<text transform="translate(27.24,2111.60) scale(0.8370,1)" font-size="37">-20</text>
<text transform="translate(27.24,2059.75) scale(0.8370,1)" font-size="37">-10</text>
<text transform="translate(54.77,2007.90) scale(0.8370,1)" font-size="37">0</text>
<text transform="translate(37.55,1956.05) scale(0.8370,1)" font-size="37">10</text>
<text transform="translate(37.55,1904.20) scale(0.8370,1)" font-size="37">20</text>
<text transform="translate(37.55,1852.35) scale(0.8370,1)" font-size="37">30</text>
<text transform="translate(37.55,1800.50) scale(0.8370,1)" font-size="37">40</text>
<text transform="translate(37.55,1748.65) scale(0.8370,1)" font-size="37">50</text>
<rect x="170.65" y="1855.20" width="61.80" height="139.80" fill="#f1b41c" stroke="#000" stroke-width="2.2"/>
<rect x="250.55" y="1880.80" width="61.80" height="114.20" fill="#009a52" stroke="#000" stroke-width="2.2"/>
<line x1="201.55" y1="1823.20" x2="201.55" y2="1884.60" stroke="#000" stroke-width="2.3"/>
<line x1="193.80" y1="1823.20" x2="209.30" y2="1823.20" stroke="#000" stroke-width="2.3"/>
<line x1="193.80" y1="1884.60" x2="209.30" y2="1884.60" stroke="#000" stroke-width="2.3"/>
<text transform="translate(194.68,1817.20) scale(0.8330,1)" font-size="27.5">a</text>
<line x1="281.45" y1="1856.20" x2="281.45" y2="1903.50" stroke="#000" stroke-width="2.3"/>
<line x1="273.70" y1="1856.20" x2="289.20" y2="1856.20" stroke="#000" stroke-width="2.3"/>
<line x1="273.70" y1="1903.50" x2="289.20" y2="1903.50" stroke="#000" stroke-width="2.3"/>
<text transform="translate(274.58,1847.60) scale(0.8330,1)" font-size="27.5">a</text>
<rect x="452.95" y="1897.50" width="61.80" height="97.50" fill="#f1b41c" stroke="#000" stroke-width="2.2"/>
<rect x="532.95" y="1996.10" width="61.80" height="43.90" fill="#009a52" stroke="#000" stroke-width="2.2"/>
<line x1="483.85" y1="1842.20" x2="483.85" y2="1948.00" stroke="#000" stroke-width="2.3"/>
<line x1="476.10" y1="1842.20" x2="491.60" y2="1842.20" stroke="#000" stroke-width="2.3"/>
<line x1="476.10" y1="1948.00" x2="491.60" y2="1948.00" stroke="#000" stroke-width="2.3"/>
<text transform="translate(476.98,1835.40) scale(0.8330,1)" font-size="27.5">a</text>
<line x1="563.85" y1="1985.80" x2="563.85" y2="2094.10" stroke="#000" stroke-width="2.3"/>
<line x1="556.10" y1="1985.80" x2="571.60" y2="1985.80" stroke="#000" stroke-width="2.3"/>
<line x1="556.10" y1="2094.10" x2="571.60" y2="2094.10" stroke="#000" stroke-width="2.3"/>
<text transform="translate(557.21,1974.40) scale(0.8330,1)" font-size="27.5">b</text>
<text transform="translate(189.54,2052.60) scale(0.7727,1)" font-size="36.5">30 DAS</text>
<text transform="translate(424.77,2052.40) scale(0.7700,1)" font-size="36.5">45 DAS</text>
<text transform="translate(741.60,1081.90) scale(0.8863,1)" font-size="48.5" font-weight="bold">D)</text>
<text transform="translate(965.81,1090.00) scale(0.9087,1)" font-size="34" font-weight="bold">Leaf biomass</text>
<text transform="translate(724.10,1427.81) rotate(-90) scale(0.8145,1)" font-size="37" font-weight="bold">g FW</text>
<line x1="800.30" y1="1138.60" x2="800.30" y2="1653.90" stroke="#000" stroke-width="2.2"/>
<line x1="788.20" y1="1653.90" x2="810.50" y2="1653.90" stroke="#000" stroke-width="2.2"/>
<line x1="788.20" y1="1569.30" x2="810.50" y2="1569.30" stroke="#000" stroke-width="2.2"/>
<line x1="788.20" y1="1482.50" x2="810.50" y2="1482.50" stroke="#000" stroke-width="2.2"/>
<line x1="788.20" y1="1396.53" x2="810.50" y2="1396.53" stroke="#000" stroke-width="2.2"/>
<line x1="788.20" y1="1310.55" x2="810.50" y2="1310.55" stroke="#000" stroke-width="2.2"/>
<line x1="788.20" y1="1224.57" x2="810.50" y2="1224.57" stroke="#000" stroke-width="2.2"/>
<line x1="788.20" y1="1138.60" x2="810.50" y2="1138.60" stroke="#000" stroke-width="2.2"/>
<line x1="800.30" y1="1636.98" x2="808.10" y2="1636.98" stroke="#000" stroke-width="2.2"/>
<line x1="800.30" y1="1620.06" x2="808.10" y2="1620.06" stroke="#000" stroke-width="2.2"/>
<line x1="800.30" y1="1603.14" x2="808.10" y2="1603.14" stroke="#000" stroke-width="2.2"/>
<line x1="800.30" y1="1586.22" x2="808.10" y2="1586.22" stroke="#000" stroke-width="2.2"/>
<line x1="800.30" y1="1552.38" x2="808.10" y2="1552.38" stroke="#000" stroke-width="2.2"/>
<line x1="800.30" y1="1535.46" x2="808.10" y2="1535.46" stroke="#000" stroke-width="2.2"/>
<line x1="800.30" y1="1518.54" x2="808.10" y2="1518.54" stroke="#000" stroke-width="2.2"/>
<line x1="800.30" y1="1501.62" x2="808.10" y2="1501.62" stroke="#000" stroke-width="2.2"/>
<line x1="800.30" y1="1465.31" x2="808.10" y2="1465.31" stroke="#000" stroke-width="2.2"/>
<line x1="800.30" y1="1448.11" x2="808.10" y2="1448.11" stroke="#000" stroke-width="2.2"/>
<line x1="800.30" y1="1430.91" x2="808.10" y2="1430.91" stroke="#000" stroke-width="2.2"/>
<line x1="800.30" y1="1413.72" x2="808.10" y2="1413.72" stroke="#000" stroke-width="2.2"/>
<line x1="800.30" y1="1379.33" x2="808.10" y2="1379.33" stroke="#000" stroke-width="2.2"/>
<line x1="800.30" y1="1362.13" x2="808.10" y2="1362.13" stroke="#000" stroke-width="2.2"/>
<line x1="800.30" y1="1344.94" x2="808.10" y2="1344.94" stroke="#000" stroke-width="2.2"/>
<line x1="800.30" y1="1327.74" x2="808.10" y2="1327.74" stroke="#000" stroke-width="2.2"/>
<line x1="800.30" y1="1293.36" x2="808.10" y2="1293.36" stroke="#000" stroke-width="2.2"/>
<line x1="800.30" y1="1276.16" x2="808.10" y2="1276.16" stroke="#000" stroke-width="2.2"/>
<line x1="800.30" y1="1258.96" x2="808.10" y2="1258.96" stroke="#000" stroke-width="2.2"/>
<line x1="800.30" y1="1241.77" x2="808.10" y2="1241.77" stroke="#000" stroke-width="2.2"/>
<line x1="800.30" y1="1207.38" x2="808.10" y2="1207.38" stroke="#000" stroke-width="2.2"/>
<line x1="800.30" y1="1190.18" x2="808.10" y2="1190.18" stroke="#000" stroke-width="2.2"/>
<line x1="800.30" y1="1172.99" x2="808.10" y2="1172.99" stroke="#000" stroke-width="2.2"/>
<line x1="800.30" y1="1155.79" x2="808.10" y2="1155.79" stroke="#000" stroke-width="2.2"/>
<line x1="788.20" y1="1653.90" x2="1393.60" y2="1653.90" stroke="#000" stroke-width="2.2"/>
<line x1="919.20" y1="1653.90" x2="919.20" y2="1643.90" stroke="#000" stroke-width="2.2"/>
<line x1="1037.80" y1="1653.90" x2="1037.80" y2="1643.90" stroke="#000" stroke-width="2.2"/>
<line x1="1156.40" y1="1653.90" x2="1156.40" y2="1643.90" stroke="#000" stroke-width="2.2"/>
<line x1="1275.00" y1="1653.90" x2="1275.00" y2="1643.90" stroke="#000" stroke-width="2.2"/>
<line x1="1393.60" y1="1653.90" x2="1393.60" y2="1643.90" stroke="#000" stroke-width="2.2"/>
<text transform="translate(753.58,1666.80) scale(0.8886,1)" font-size="37">0</text>
<text transform="translate(737.65,1582.20) scale(0.8454,1)" font-size="37">10</text>
<text transform="translate(743.13,1495.40) scale(0.8511,1)" font-size="37">60</text>
<text transform="translate(733.49,1409.43) scale(0.7978,1)" font-size="37">120</text>
<text transform="translate(735.24,1323.45) scale(0.8152,1)" font-size="37">180</text>
<text transform="translate(735.98,1237.48) scale(0.8211,1)" font-size="37">240</text>
<text transform="translate(735.06,1151.50) scale(0.8180,1)" font-size="37">300</text>
<rect x="818.70" y="1646.90" width="15.80" height="7.00" fill="#f1b41c" stroke="#000" stroke-width="2.2"/>
<rect x="840.25" y="1646.90" width="15.80" height="7.00" fill="url(#po)" stroke="#000" stroke-width="2.2"/>
<rect x="861.75" y="1642.60" width="15.80" height="11.30" fill="#009a52" stroke="#000" stroke-width="2.2"/>
<rect x="883.30" y="1644.70" width="15.80" height="9.20" fill="url(#pg)" stroke="#000" stroke-width="2.2"/>
<line x1="826.60" y1="1646.80" x2="826.60" y2="1647.30" stroke="#000" stroke-width="2.3"/>
<line x1="818.85" y1="1646.80" x2="834.35" y2="1646.80" stroke="#000" stroke-width="2.3"/>
<line x1="818.85" y1="1647.30" x2="834.35" y2="1647.30" stroke="#000" stroke-width="2.3"/>
<text transform="translate(820.70,1640.80) scale(0.8330,1)" font-size="27.5">c</text>
<line x1="848.15" y1="1646.80" x2="848.15" y2="1647.30" stroke="#000" stroke-width="2.3"/>
<line x1="840.40" y1="1646.80" x2="855.90" y2="1646.80" stroke="#000" stroke-width="2.3"/>
<line x1="840.40" y1="1647.30" x2="855.90" y2="1647.30" stroke="#000" stroke-width="2.3"/>
<text transform="translate(842.25,1640.80) scale(0.8330,1)" font-size="27.5">c</text>
<line x1="869.65" y1="1642.60" x2="869.65" y2="1644.40" stroke="#000" stroke-width="2.3"/>
<line x1="861.90" y1="1642.60" x2="877.40" y2="1642.60" stroke="#000" stroke-width="2.3"/>
<line x1="861.90" y1="1644.40" x2="877.40" y2="1644.40" stroke="#000" stroke-width="2.3"/>
<text transform="translate(862.78,1633.60) scale(0.8330,1)" font-size="27.5">a</text>
<line x1="891.20" y1="1644.60" x2="891.20" y2="1646.00" stroke="#000" stroke-width="2.3"/>
<line x1="883.45" y1="1644.60" x2="898.95" y2="1644.60" stroke="#000" stroke-width="2.3"/>
<line x1="883.45" y1="1646.00" x2="898.95" y2="1646.00" stroke="#000" stroke-width="2.3"/>
<text transform="translate(884.56,1636.10) scale(0.8330,1)" font-size="27.5">b</text>
<rect x="937.30" y="1587.60" width="15.80" height="66.30" fill="#f1b41c" stroke="#000" stroke-width="2.2"/>
<rect x="958.85" y="1623.10" width="15.80" height="30.80" fill="url(#po)" stroke="#000" stroke-width="2.2"/>
<rect x="980.35" y="1569.50" width="15.80" height="84.40" fill="#009a52" stroke="#000" stroke-width="2.2"/>
<rect x="1001.90" y="1613.10" width="15.80" height="40.80" fill="url(#pg)" stroke="#000" stroke-width="2.2"/>
<line x1="945.20" y1="1583.50" x2="945.20" y2="1589.50" stroke="#000" stroke-width="2.3"/>
<line x1="937.45" y1="1583.50" x2="952.95" y2="1583.50" stroke="#000" stroke-width="2.3"/>
<line x1="937.45" y1="1589.50" x2="952.95" y2="1589.50" stroke="#000" stroke-width="2.3"/>
<text transform="translate(938.56,1578.80) scale(0.8330,1)" font-size="27.5">b</text>
<line x1="966.75" y1="1620.50" x2="966.75" y2="1623.50" stroke="#000" stroke-width="2.3"/>
<line x1="959.00" y1="1620.50" x2="974.50" y2="1620.50" stroke="#000" stroke-width="2.3"/>
<line x1="959.00" y1="1623.50" x2="974.50" y2="1623.50" stroke="#000" stroke-width="2.3"/>
<text transform="translate(960.62,1611.00) scale(0.8330,1)" font-size="27.5">d</text>
<line x1="988.25" y1="1565.90" x2="988.25" y2="1570.90" stroke="#000" stroke-width="2.3"/>
<line x1="980.50" y1="1565.90" x2="996.00" y2="1565.90" stroke="#000" stroke-width="2.3"/>
<line x1="980.50" y1="1570.90" x2="996.00" y2="1570.90" stroke="#000" stroke-width="2.3"/>
<text transform="translate(981.38,1560.10) scale(0.8330,1)" font-size="27.5">a</text>
<line x1="1009.80" y1="1610.50" x2="1009.80" y2="1613.50" stroke="#000" stroke-width="2.3"/>
<line x1="1002.05" y1="1610.50" x2="1017.55" y2="1610.50" stroke="#000" stroke-width="2.3"/>
<line x1="1002.05" y1="1613.50" x2="1017.55" y2="1613.50" stroke="#000" stroke-width="2.3"/>
<text transform="translate(1003.90,1602.70) scale(0.8330,1)" font-size="27.5">c</text>
<rect x="1055.90" y="1570.60" width="15.80" height="83.30" fill="#f1b41c" stroke="#000" stroke-width="2.2"/>
<rect x="1077.45" y="1610.70" width="15.80" height="43.20" fill="url(#po)" stroke="#000" stroke-width="2.2"/>
<rect x="1098.95" y="1524.00" width="15.80" height="129.90" fill="#009a52" stroke="#000" stroke-width="2.2"/>
<rect x="1120.50" y="1578.90" width="15.80" height="75.00" fill="url(#pg)" stroke="#000" stroke-width="2.2"/>
<line x1="1063.80" y1="1564.50" x2="1063.80" y2="1574.30" stroke="#000" stroke-width="2.3"/>
<line x1="1056.05" y1="1564.50" x2="1071.55" y2="1564.50" stroke="#000" stroke-width="2.3"/>
<line x1="1056.05" y1="1574.30" x2="1071.55" y2="1574.30" stroke="#000" stroke-width="2.3"/>
<text transform="translate(1057.16,1558.00) scale(0.8330,1)" font-size="27.5">b</text>
<line x1="1085.35" y1="1604.60" x2="1085.35" y2="1614.00" stroke="#000" stroke-width="2.3"/>
<line x1="1077.60" y1="1604.60" x2="1093.10" y2="1604.60" stroke="#000" stroke-width="2.3"/>
<line x1="1077.60" y1="1614.00" x2="1093.10" y2="1614.00" stroke="#000" stroke-width="2.3"/>
<text transform="translate(1079.22,1597.50) scale(0.8330,1)" font-size="27.5">d</text>
<line x1="1106.85" y1="1520.40" x2="1106.85" y2="1525.40" stroke="#000" stroke-width="2.3"/>
<line x1="1099.10" y1="1520.40" x2="1114.60" y2="1520.40" stroke="#000" stroke-width="2.3"/>
<line x1="1099.10" y1="1525.40" x2="1114.60" y2="1525.40" stroke="#000" stroke-width="2.3"/>
<text transform="translate(1099.98,1516.00) scale(0.8330,1)" font-size="27.5">a</text>
<line x1="1128.40" y1="1574.80" x2="1128.40" y2="1580.80" stroke="#000" stroke-width="2.3"/>
<line x1="1120.65" y1="1574.80" x2="1136.15" y2="1574.80" stroke="#000" stroke-width="2.3"/>
<line x1="1120.65" y1="1580.80" x2="1136.15" y2="1580.80" stroke="#000" stroke-width="2.3"/>
<text transform="translate(1122.50,1569.00) scale(0.8330,1)" font-size="27.5">c</text>
<rect x="1174.50" y="1504.80" width="15.80" height="149.10" fill="#f1b41c"/>
<path d="M1174.50 1504.80V1653.90M1190.30 1504.80V1653.90" stroke="#000" stroke-width="2.2" fill="none"/>
<rect x="1196.05" y="1504.80" width="15.80" height="149.10" fill="url(#po)"/>
<path d="M1196.05 1504.80V1653.90M1211.85 1504.80V1653.90" stroke="#000" stroke-width="2.2" fill="none"/>
<rect x="1217.55" y="1504.80" width="15.80" height="149.10" fill="#009a52"/>
<path d="M1217.55 1504.80V1653.90M1233.35 1504.80V1653.90" stroke="#000" stroke-width="2.2" fill="none"/>
<rect x="1239.10" y="1504.80" width="15.80" height="149.10" fill="url(#pg)"/>
<path d="M1239.10 1504.80V1653.90M1254.90 1504.80V1653.90" stroke="#000" stroke-width="2.2" fill="none"/>
<rect x="1174.50" y="1410.70" width="15.80" height="83.10" fill="#f1b41c" stroke="#000" stroke-width="2.2"/>
<rect x="1196.05" y="1450.50" width="15.80" height="43.30" fill="url(#po)" stroke="#000" stroke-width="2.2"/>
<rect x="1217.55" y="1394.20" width="15.80" height="99.60" fill="#009a52" stroke="#000" stroke-width="2.2"/>
<rect x="1239.10" y="1422.20" width="15.80" height="71.60" fill="url(#pg)" stroke="#000" stroke-width="2.2"/>
<line x1="1182.40" y1="1395.30" x2="1182.40" y2="1423.40" stroke="#000" stroke-width="2.3"/>
<line x1="1174.65" y1="1395.30" x2="1190.15" y2="1395.30" stroke="#000" stroke-width="2.3"/>
<line x1="1174.65" y1="1423.40" x2="1190.15" y2="1423.40" stroke="#000" stroke-width="2.3"/>
<text transform="translate(1169.66,1386.80) scale(0.8330,1)" font-size="27.5">ab</text>
<line x1="1203.95" y1="1437.60" x2="1203.95" y2="1458.50" stroke="#000" stroke-width="2.3"/>
<line x1="1196.20" y1="1437.60" x2="1211.70" y2="1437.60" stroke="#000" stroke-width="2.3"/>
<line x1="1196.20" y1="1458.50" x2="1211.70" y2="1458.50" stroke="#000" stroke-width="2.3"/>
<text transform="translate(1198.05,1431.30) scale(0.8330,1)" font-size="27.5">c</text>
<line x1="1225.45" y1="1381.10" x2="1225.45" y2="1404.90" stroke="#000" stroke-width="2.3"/>
<line x1="1217.70" y1="1381.10" x2="1233.20" y2="1381.10" stroke="#000" stroke-width="2.3"/>
<line x1="1217.70" y1="1404.90" x2="1233.20" y2="1404.90" stroke="#000" stroke-width="2.3"/>
<text transform="translate(1218.58,1374.60) scale(0.8330,1)" font-size="27.5">a</text>
<line x1="1247.00" y1="1409.50" x2="1247.00" y2="1430.10" stroke="#000" stroke-width="2.3"/>
<line x1="1239.25" y1="1409.50" x2="1254.75" y2="1409.50" stroke="#000" stroke-width="2.3"/>
<line x1="1239.25" y1="1430.10" x2="1254.75" y2="1430.10" stroke="#000" stroke-width="2.3"/>
<text transform="translate(1240.36,1403.00) scale(0.8330,1)" font-size="27.5">b</text>
<rect x="1293.10" y="1504.80" width="15.80" height="149.10" fill="#f1b41c"/>
<path d="M1293.10 1504.80V1653.90M1308.90 1504.80V1653.90" stroke="#000" stroke-width="2.2" fill="none"/>
<rect x="1314.65" y="1504.80" width="15.80" height="149.10" fill="url(#po)"/>
<path d="M1314.65 1504.80V1653.90M1330.45 1504.80V1653.90" stroke="#000" stroke-width="2.2" fill="none"/>
<rect x="1336.15" y="1504.80" width="15.80" height="149.10" fill="#009a52"/>
<path d="M1336.15 1504.80V1653.90M1351.95 1504.80V1653.90" stroke="#000" stroke-width="2.2" fill="none"/>
<rect x="1357.70" y="1504.80" width="15.80" height="149.10" fill="url(#pg)"/>
<path d="M1357.70 1504.80V1653.90M1373.50 1504.80V1653.90" stroke="#000" stroke-width="2.2" fill="none"/>
<rect x="1293.10" y="1283.50" width="15.80" height="210.30" fill="#f1b41c" stroke="#000" stroke-width="2.2"/>
<rect x="1314.65" y="1394.30" width="15.80" height="99.50" fill="url(#po)" stroke="#000" stroke-width="2.2"/>
<rect x="1336.15" y="1222.30" width="15.80" height="271.50" fill="#009a52" stroke="#000" stroke-width="2.2"/>
<rect x="1357.70" y="1309.40" width="15.80" height="184.40" fill="url(#pg)" stroke="#000" stroke-width="2.2"/>
<line x1="1301.00" y1="1251.70" x2="1301.00" y2="1313.20" stroke="#000" stroke-width="2.3"/>
<line x1="1293.25" y1="1251.70" x2="1308.75" y2="1251.70" stroke="#000" stroke-width="2.3"/>
<line x1="1293.25" y1="1313.20" x2="1308.75" y2="1313.20" stroke="#000" stroke-width="2.3"/>
<text transform="translate(1288.26,1243.40) scale(0.8330,1)" font-size="27.5">ab</text>
<line x1="1322.55" y1="1376.00" x2="1322.55" y2="1410.40" stroke="#000" stroke-width="2.3"/>
<line x1="1314.80" y1="1376.00" x2="1330.30" y2="1376.00" stroke="#000" stroke-width="2.3"/>
<line x1="1314.80" y1="1410.40" x2="1330.30" y2="1410.40" stroke="#000" stroke-width="2.3"/>
<text transform="translate(1316.65,1368.60) scale(0.8330,1)" font-size="27.5">c</text>
<line x1="1344.05" y1="1195.40" x2="1344.05" y2="1246.70" stroke="#000" stroke-width="2.3"/>
<line x1="1336.30" y1="1195.40" x2="1351.80" y2="1195.40" stroke="#000" stroke-width="2.3"/>
<line x1="1336.30" y1="1246.70" x2="1351.80" y2="1246.70" stroke="#000" stroke-width="2.3"/>
<text transform="translate(1337.18,1186.50) scale(0.8330,1)" font-size="27.5">a</text>
<line x1="1365.60" y1="1296.60" x2="1365.60" y2="1319.30" stroke="#000" stroke-width="2.3"/>
<line x1="1357.85" y1="1296.60" x2="1373.35" y2="1296.60" stroke="#000" stroke-width="2.3"/>
<line x1="1357.85" y1="1319.30" x2="1373.35" y2="1319.30" stroke="#000" stroke-width="2.3"/>
<text transform="translate(1358.96,1288.00) scale(0.8330,1)" font-size="27.5">b</text>
<text transform="translate(817.86,1708.30) scale(0.7804,1)" font-size="36.5">5 DAS</text>
<text transform="translate(929.59,1708.30) scale(0.7690,1)" font-size="36.5">10 DAS</text>
<text transform="translate(1046.61,1708.30) scale(0.7641,1)" font-size="36.5">20 DAS</text>
<text transform="translate(1166.96,1708.30) scale(0.7621,1)" font-size="36.5">30 DAS</text>
<text transform="translate(1283.66,1708.30) scale(0.7757,1)" font-size="36.5">45 DAS</text>
<g stroke="#000" stroke-width="2" stroke-dasharray="2.6 2.4" fill="none">
<line x1="784.2" y1="1464.2" x2="819" y2="1498.4"/>
<line x1="779.5" y1="1468.8" x2="813.8" y2="1503.1"/>
</g>
<text transform="translate(726.20,1965.93) rotate(-90) scale(0.7846,1)" font-size="37" font-weight="bold">% Reduction</text>
<line x1="798.20" y1="1736.20" x2="798.20" y2="1999.70" stroke="#000" stroke-width="2.2"/>
<line x1="788.00" y1="1999.70" x2="810.80" y2="1999.70" stroke="#000" stroke-width="2.2"/>
<line x1="788.00" y1="1947.00" x2="810.80" y2="1947.00" stroke="#000" stroke-width="2.2"/>
<line x1="788.00" y1="1894.30" x2="810.80" y2="1894.30" stroke="#000" stroke-width="2.2"/>
<line x1="788.00" y1="1841.60" x2="810.80" y2="1841.60" stroke="#000" stroke-width="2.2"/>
<line x1="788.00" y1="1788.90" x2="810.80" y2="1788.90" stroke="#000" stroke-width="2.2"/>
<line x1="788.00" y1="1736.20" x2="810.80" y2="1736.20" stroke="#000" stroke-width="2.2"/>
<line x1="798.20" y1="1989.16" x2="808.30" y2="1989.16" stroke="#000" stroke-width="2.2"/>
<line x1="798.20" y1="1978.62" x2="808.30" y2="1978.62" stroke="#000" stroke-width="2.2"/>
<line x1="798.20" y1="1968.08" x2="808.30" y2="1968.08" stroke="#000" stroke-width="2.2"/>
<line x1="798.20" y1="1957.54" x2="808.30" y2="1957.54" stroke="#000" stroke-width="2.2"/>
<line x1="798.20" y1="1936.46" x2="808.30" y2="1936.46" stroke="#000" stroke-width="2.2"/>
<line x1="798.20" y1="1925.92" x2="808.30" y2="1925.92" stroke="#000" stroke-width="2.2"/>
<line x1="798.20" y1="1915.38" x2="808.30" y2="1915.38" stroke="#000" stroke-width="2.2"/>
<line x1="798.20" y1="1904.84" x2="808.30" y2="1904.84" stroke="#000" stroke-width="2.2"/>
<line x1="798.20" y1="1883.76" x2="808.30" y2="1883.76" stroke="#000" stroke-width="2.2"/>
<line x1="798.20" y1="1873.22" x2="808.30" y2="1873.22" stroke="#000" stroke-width="2.2"/>
<line x1="798.20" y1="1862.68" x2="808.30" y2="1862.68" stroke="#000" stroke-width="2.2"/>
<line x1="798.20" y1="1852.14" x2="808.30" y2="1852.14" stroke="#000" stroke-width="2.2"/>
<line x1="798.20" y1="1831.06" x2="808.30" y2="1831.06" stroke="#000" stroke-width="2.2"/>
<line x1="798.20" y1="1820.52" x2="808.30" y2="1820.52" stroke="#000" stroke-width="2.2"/>
<line x1="798.20" y1="1809.98" x2="808.30" y2="1809.98" stroke="#000" stroke-width="2.2"/>
<line x1="798.20" y1="1799.44" x2="808.30" y2="1799.44" stroke="#000" stroke-width="2.2"/>
<line x1="798.20" y1="1778.36" x2="808.30" y2="1778.36" stroke="#000" stroke-width="2.2"/>
<line x1="798.20" y1="1767.82" x2="808.30" y2="1767.82" stroke="#000" stroke-width="2.2"/>
<line x1="798.20" y1="1757.28" x2="808.30" y2="1757.28" stroke="#000" stroke-width="2.2"/>
<line x1="798.20" y1="1746.74" x2="808.30" y2="1746.74" stroke="#000" stroke-width="2.2"/>
<line x1="788.00" y1="1999.70" x2="1360.70" y2="1999.70" stroke="#000" stroke-width="2.2"/>
<line x1="1080.30" y1="1999.70" x2="1080.30" y2="1987.70" stroke="#000" stroke-width="2.2"/>
<line x1="1360.70" y1="1999.70" x2="1360.70" y2="1987.70" stroke="#000" stroke-width="2.2"/>
<text transform="translate(753.77,2012.60) scale(0.8370,1)" font-size="37">0</text>
<text transform="translate(736.55,1959.90) scale(0.8370,1)" font-size="37">20</text>
<text transform="translate(736.55,1907.20) scale(0.8370,1)" font-size="37">40</text>
<text transform="translate(736.55,1854.50) scale(0.8370,1)" font-size="37">60</text>
<text transform="translate(736.55,1801.80) scale(0.8370,1)" font-size="37">80</text>
<text transform="translate(719.33,1749.10) scale(0.8370,1)" font-size="37">100</text>
<rect x="869.40" y="1907.40" width="59.30" height="92.30" fill="#f1b41c" stroke="#000" stroke-width="2.2"/>
<rect x="949.90" y="1942.40" width="59.30" height="57.30" fill="#009a52" stroke="#000" stroke-width="2.2"/>
<line x1="899.05" y1="1880.10" x2="899.05" y2="1931.70" stroke="#000" stroke-width="2.3"/>
<line x1="891.30" y1="1880.10" x2="906.80" y2="1880.10" stroke="#000" stroke-width="2.3"/>
<line x1="891.30" y1="1931.70" x2="906.80" y2="1931.70" stroke="#000" stroke-width="2.3"/>
<text transform="translate(892.18,1872.60) scale(0.8330,1)" font-size="27.5">a</text>
<line x1="979.55" y1="1922.40" x2="979.55" y2="1962.20" stroke="#000" stroke-width="2.3"/>
<line x1="971.80" y1="1922.40" x2="987.30" y2="1922.40" stroke="#000" stroke-width="2.3"/>
<line x1="971.80" y1="1962.20" x2="987.30" y2="1962.20" stroke="#000" stroke-width="2.3"/>
<text transform="translate(972.68,1913.40) scale(0.8330,1)" font-size="27.5">a</text>
<rect x="1149.85" y="1878.30" width="59.30" height="121.40" fill="#f1b41c" stroke="#000" stroke-width="2.2"/>
<rect x="1229.50" y="1923.40" width="59.30" height="76.30" fill="#009a52" stroke="#000" stroke-width="2.2"/>
<line x1="1179.50" y1="1858.50" x2="1179.50" y2="1894.30" stroke="#000" stroke-width="2.3"/>
<line x1="1171.75" y1="1858.50" x2="1187.25" y2="1858.50" stroke="#000" stroke-width="2.3"/>
<line x1="1171.75" y1="1894.30" x2="1187.25" y2="1894.30" stroke="#000" stroke-width="2.3"/>
<text transform="translate(1172.63,1849.90) scale(0.8330,1)" font-size="27.5">a</text>
<line x1="1259.15" y1="1912.90" x2="1259.15" y2="1934.00" stroke="#000" stroke-width="2.3"/>
<line x1="1251.40" y1="1912.90" x2="1266.90" y2="1912.90" stroke="#000" stroke-width="2.3"/>
<line x1="1251.40" y1="1934.00" x2="1266.90" y2="1934.00" stroke="#000" stroke-width="2.3"/>
<text transform="translate(1252.51,1905.90) scale(0.8330,1)" font-size="27.5">b</text>
<text transform="translate(890.73,2052.20) scale(0.7784,1)" font-size="36.5">30 DAS</text>
<text transform="translate(1170.96,2052.40) scale(0.7757,1)" font-size="36.5">45 DAS</text>
</svg>
</body></html>
